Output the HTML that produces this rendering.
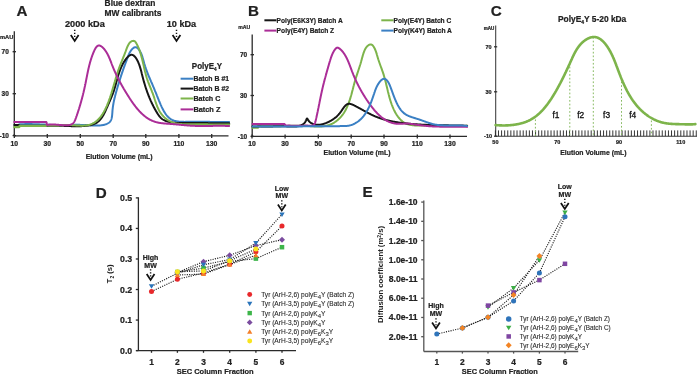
<!DOCTYPE html>
<html><head><meta charset="utf-8"><style>
html,body{margin:0;padding:0;background:#fff;width:697px;height:375px;overflow:hidden;position:relative;font-family:"Liberation Sans", sans-serif;}
</style></head><body>
<svg width="697" height="375" viewBox="0 0 697 375" style="position:absolute;left:0;top:0;filter:blur(0.35px)" font-family='"Liberation Sans", sans-serif'>
<rect width="697" height="375" fill="#fff"/>
<text x="16.60" y="15.80" font-size="15.2" font-weight="bold" text-anchor="start" fill="#222" stroke="#222" stroke-width="0.22" >A</text>
<text x="104.60" y="6.00" font-size="8.6" font-weight="bold" text-anchor="start" fill="#222" stroke="#222" stroke-width="0.22" textLength="50.80" lengthAdjust="spacingAndGlyphs" >Blue dextran</text>
<text x="104.60" y="15.70" font-size="8.6" font-weight="bold" text-anchor="start" fill="#222" stroke="#222" stroke-width="0.22" textLength="56.80" lengthAdjust="spacingAndGlyphs" >MW calibrants</text>
<text x="65.00" y="26.80" font-size="9.0" font-weight="bold" text-anchor="start" fill="#222" stroke="#222" stroke-width="0.22" textLength="39.80" lengthAdjust="spacingAndGlyphs" >2000 kDa</text>
<text x="166.80" y="26.80" font-size="9.0" font-weight="bold" text-anchor="start" fill="#222" stroke="#222" stroke-width="0.22" textLength="29.40" lengthAdjust="spacingAndGlyphs" >10 kDa</text>
<line x1="74.70" y1="29.70" x2="74.70" y2="37.70" stroke="#111" stroke-width="1.45" stroke-dasharray="1.35 1.65"/>
<path d="M70.80 34.90 L74.70 40.90 L78.60 34.90" fill="none" stroke="#111" stroke-width="1.75" stroke-linejoin="miter" stroke-miterlimit="6"/>
<line x1="176.50" y1="29.70" x2="176.50" y2="37.70" stroke="#111" stroke-width="1.45" stroke-dasharray="1.35 1.65"/>
<path d="M172.60 34.90 L176.50 40.90 L180.40 34.90" fill="none" stroke="#111" stroke-width="1.75" stroke-linejoin="miter" stroke-miterlimit="6"/>
<line x1="14.30" y1="31.20" x2="14.30" y2="135.60" stroke="#2a2a2a" stroke-width="1.3" />
<line x1="14.30" y1="135.80" x2="228.50" y2="135.80" stroke="#2a2a2a" stroke-width="1.3" />
<line x1="12.60" y1="51.70" x2="16.00" y2="51.70" stroke="#2a2a2a" stroke-width="1.3" />
<line x1="12.60" y1="93.70" x2="16.00" y2="93.70" stroke="#2a2a2a" stroke-width="1.3" />
<line x1="12.60" y1="135.60" x2="16.00" y2="135.60" stroke="#2a2a2a" stroke-width="1.3" />
<line x1="14.30" y1="134.00" x2="14.30" y2="138.00" stroke="#2a2a2a" stroke-width="1.3" />
<line x1="47.30" y1="134.00" x2="47.30" y2="138.00" stroke="#2a2a2a" stroke-width="1.3" />
<line x1="80.30" y1="134.00" x2="80.30" y2="138.00" stroke="#2a2a2a" stroke-width="1.3" />
<line x1="113.20" y1="134.00" x2="113.20" y2="138.00" stroke="#2a2a2a" stroke-width="1.3" />
<line x1="145.80" y1="134.00" x2="145.80" y2="138.00" stroke="#2a2a2a" stroke-width="1.3" />
<line x1="178.90" y1="134.00" x2="178.90" y2="138.00" stroke="#2a2a2a" stroke-width="1.3" />
<line x1="211.70" y1="134.00" x2="211.70" y2="138.00" stroke="#2a2a2a" stroke-width="1.3" />
<text x="13.30" y="38.60" font-size="6.0" font-weight="bold" text-anchor="end" fill="#222" stroke="#222" stroke-width="0.22" textLength="13.30" lengthAdjust="spacingAndGlyphs" >mAU</text>
<text x="8.80" y="54.10" font-size="6.5" font-weight="bold" text-anchor="end" fill="#222" stroke="#222" stroke-width="0.22" >70</text>
<text x="8.80" y="96.10" font-size="6.5" font-weight="bold" text-anchor="end" fill="#222" stroke="#222" stroke-width="0.22" >30</text>
<text x="9.00" y="138.00" font-size="6.5" font-weight="bold" text-anchor="end" fill="#222" stroke="#222" stroke-width="0.22" >-10</text>
<text x="14.30" y="145.60" font-size="6.8" font-weight="bold" text-anchor="middle" fill="#222" stroke="#222" stroke-width="0.22" >10</text>
<text x="47.30" y="145.60" font-size="6.8" font-weight="bold" text-anchor="middle" fill="#222" stroke="#222" stroke-width="0.22" >30</text>
<text x="80.30" y="145.60" font-size="6.8" font-weight="bold" text-anchor="middle" fill="#222" stroke="#222" stroke-width="0.22" >50</text>
<text x="113.20" y="145.60" font-size="6.8" font-weight="bold" text-anchor="middle" fill="#222" stroke="#222" stroke-width="0.22" >70</text>
<text x="145.80" y="145.60" font-size="6.8" font-weight="bold" text-anchor="middle" fill="#222" stroke="#222" stroke-width="0.22" >90</text>
<text x="178.90" y="145.60" font-size="6.8" font-weight="bold" text-anchor="middle" fill="#222" stroke="#222" stroke-width="0.22" >110</text>
<text x="211.70" y="145.60" font-size="6.8" font-weight="bold" text-anchor="middle" fill="#222" stroke="#222" stroke-width="0.22" >130</text>
<text x="119.20" y="159.00" font-size="7.3" font-weight="bold" text-anchor="middle" fill="#222" stroke="#222" stroke-width="0.22" textLength="67.00" lengthAdjust="spacingAndGlyphs" >Elution Volume (mL)</text>
<text x="191.80" y="69.20" font-size="8.8" font-weight="bold" text-anchor="start" fill="#222" stroke="#222" stroke-width="0.22" textLength="30.20" lengthAdjust="spacingAndGlyphs" >PolyE<tspan font-size="5" dy="2">4</tspan><tspan dy="-2">Y</tspan></text>
<line x1="180.60" y1="78.70" x2="193.40" y2="78.70" stroke="#3b80c4" stroke-width="2" />
<text x="193.40" y="81.20" font-size="7.2" font-weight="bold" text-anchor="start" fill="#222" stroke="#222" stroke-width="0.22" textLength="35.70" lengthAdjust="spacingAndGlyphs" >Batch B #1</text>
<line x1="180.60" y1="88.60" x2="193.40" y2="88.60" stroke="#161616" stroke-width="2" />
<text x="193.40" y="91.10" font-size="7.2" font-weight="bold" text-anchor="start" fill="#222" stroke="#222" stroke-width="0.22" textLength="35.70" lengthAdjust="spacingAndGlyphs" >Batch B #2</text>
<line x1="180.60" y1="98.50" x2="193.40" y2="98.50" stroke="#7db44b" stroke-width="2" />
<text x="193.40" y="101.00" font-size="7.2" font-weight="bold" text-anchor="start" fill="#222" stroke="#222" stroke-width="0.22" textLength="27.00" lengthAdjust="spacingAndGlyphs" >Batch C</text>
<line x1="180.60" y1="109.40" x2="193.40" y2="109.40" stroke="#ab2d97" stroke-width="2" />
<text x="193.40" y="111.90" font-size="7.2" font-weight="bold" text-anchor="start" fill="#222" stroke="#222" stroke-width="0.22" textLength="27.00" lengthAdjust="spacingAndGlyphs" >Batch Z</text>
<path d="M19.05 124.39 L19.57 124.36 L20.08 124.32 L20.60 124.29 L21.12 124.26 L21.64 124.23 L22.16 124.21 L22.68 124.19 L23.20 124.17 L23.73 124.15 L24.25 124.13 L24.77 124.12 L25.29 124.11 L25.82 124.10 L26.34 124.09 L26.86 124.09 L27.39 124.08 L27.91 124.08 L28.43 124.08 L28.96 124.08 L29.48 124.08 L30.01 124.09 L30.53 124.09 L31.06 124.10 L31.59 124.11 L32.11 124.12 L32.64 124.13 L33.17 124.14 L33.69 124.15 L34.22 124.17 L34.75 124.18 L35.27 124.20 L35.80 124.22 L36.33 124.24 L36.86 124.26 L37.38 124.28 L37.91 124.30 L38.44 124.32 L38.97 124.34 L39.50 124.36 L40.02 124.39 L40.55 124.41 L41.08 124.44 L41.61 124.46 L42.14 124.49 L42.66 124.51 L43.19 124.54 L43.72 124.56 L44.25 124.59 L44.78 124.61 L45.31 124.64 L45.83 124.66 L46.36 124.69 L46.89 124.71 L47.42 124.74 L47.94 124.76 L48.47 124.79 L49.00 124.81 L49.53 124.84 L50.05 124.86 L50.58 124.88 L51.11 124.90 L51.63 124.92 L52.16 124.94 L52.69 124.96 L53.21 124.98 L53.74 125.00 L54.26 125.02 L54.79 125.03 L55.31 125.05 L55.84 125.06 L56.36 125.08 L56.89 125.09 L57.41 125.10 L57.94 125.11 L58.46 125.11 L58.98 125.12 L59.50 125.13 L60.03 125.13 L60.55 125.13 L61.07 125.13 L61.59 125.13 L62.11 125.13 L62.63 125.12 L63.15 125.12 L63.67 125.11 L64.19 125.10 L64.71 125.09 L65.23 125.08 L65.75 125.07 L66.27 125.06 L66.79 125.05 L67.31 125.04 L67.83 125.02 L68.35 125.01 L68.87 125.00 L69.39 124.98 L69.91 124.97 L70.43 124.96 L70.95 124.94 L71.47 124.93 L71.99 124.92 L72.51 124.91 L73.03 124.90 L73.56 124.89 L74.08 124.88 L74.60 124.87 L75.13 124.86 L75.65 124.86 L76.18 124.85 L76.70 124.85 L77.23 124.85 L77.76 124.85 L78.28 124.85 L78.81 124.86 L79.34 124.86 L79.87 124.87 L80.41 124.88 L80.94 124.89 L81.47 124.91 L82.01 124.93 L82.54 124.95 L83.08 124.97 L83.62 124.99 L84.16 125.02 L84.70 125.05 L85.24 125.08 L85.78 125.12 L86.32 125.15 L86.86 125.19 L87.41 125.22 L87.95 125.26 L88.49 125.29 L89.03 125.33 L89.58 125.37 L90.12 125.40 L90.66 125.43 L91.20 125.46 L91.74 125.49 L92.28 125.52 L92.81 125.54 L93.35 125.56 L93.88 125.58 L94.42 125.60 L94.95 125.61 L95.48 125.61 L96.01 125.62 L96.53 125.61 L97.06 125.61 L97.58 125.59 L98.10 125.57 L98.61 125.55 L99.13 125.52 L99.64 125.48 L100.15 125.44 L100.65 125.38 L101.15 125.32 L101.65 125.26 L102.15 125.18 L102.64 125.10 L103.13 125.00 L103.61 124.90 L104.09 124.79 L104.57 124.67 L105.04 124.54 L105.50 124.39 L105.96 124.24 L106.40 124.07 L106.84 123.89 L107.27 123.69 L107.68 123.48 L108.08 123.25 L108.46 123.01 L108.83 122.75 L109.18 122.47 L109.52 122.17 L109.83 121.86 L110.13 121.52 L110.40 121.16 L110.65 120.78 L110.87 120.38 L111.08 119.96 L111.26 119.51 L111.42 119.05 L111.56 118.57 L111.69 118.08 L111.80 117.57 L111.89 117.04 L111.98 116.51 L112.05 115.96 L112.11 115.41 L112.17 114.85 L112.22 114.28 L112.27 113.71 L112.31 113.14 L112.35 112.56 L112.39 111.98 L112.43 111.41 L112.47 110.84 L112.52 110.27 L112.57 109.70 L112.63 109.14 L112.69 108.58 L112.76 108.03 L112.83 107.48 L112.90 106.93 L112.97 106.39 L113.05 105.84 L113.13 105.31 L113.22 104.77 L113.31 104.24 L113.40 103.71 L113.50 103.18 L113.60 102.66 L113.70 102.13 L113.80 101.61 L113.91 101.09 L114.02 100.58 L114.13 100.06 L114.24 99.55 L114.36 99.04 L114.48 98.53 L114.60 98.03 L114.72 97.52 L114.85 97.02 L114.97 96.51 L115.10 96.01 L115.23 95.51 L115.36 95.01 L115.49 94.51 L115.63 94.01 L115.76 93.52 L115.90 93.02 L116.04 92.52 L116.17 92.03 L116.31 91.53 L116.45 91.03 L116.59 90.54 L116.73 90.04 L116.88 89.55 L117.02 89.05 L117.16 88.56 L117.31 88.06 L117.45 87.57 L117.60 87.07 L117.74 86.57 L117.89 86.08 L118.04 85.58 L118.18 85.09 L118.33 84.59 L118.48 84.10 L118.63 83.60 L118.78 83.10 L118.93 82.61 L119.09 82.11 L119.24 81.62 L119.39 81.12 L119.55 80.62 L119.70 80.13 L119.86 79.63 L120.02 79.13 L120.18 78.64 L120.33 78.14 L120.49 77.64 L120.65 77.14 L120.82 76.65 L120.98 76.15 L121.14 75.65 L121.30 75.15 L121.47 74.65 L121.63 74.16 L121.80 73.66 L121.97 73.16 L122.14 72.66 L122.31 72.16 L122.48 71.66 L122.65 71.16 L122.82 70.66 L122.99 70.16 L123.16 69.66 L123.34 69.15 L123.52 68.65 L123.69 68.15 L123.87 67.65 L124.05 67.15 L124.23 66.64 L124.41 66.14 L124.59 65.63 L124.77 65.13 L124.96 64.63 L125.14 64.12 L125.33 63.62 L125.51 63.11 L125.70 62.60 L125.89 62.10 L126.08 61.59 L126.27 61.08 L126.46 60.57 L126.65 60.07 L126.85 59.56 L127.04 59.05 L127.24 58.54 L127.44 58.03 L127.63 57.52 L127.83 57.01 L128.03 56.50 L128.24 55.99 L128.44 55.48 L128.66 54.97 L128.87 54.47 L129.09 53.98 L129.32 53.49 L129.55 53.01 L129.79 52.54 L130.04 52.08 L130.29 51.63 L130.56 51.19 L130.84 50.76 L131.13 50.35 L131.43 49.95 L131.74 49.57 L132.06 49.20 L132.40 48.85 L132.76 48.52 L133.13 48.22 L133.51 47.94 L133.90 47.69 L134.29 47.49 L134.69 47.33 L135.09 47.23 L135.48 47.18 L135.87 47.21 L136.25 47.30 L136.63 47.46 L136.99 47.67 L137.34 47.92 L137.68 48.22 L138.02 48.54 L138.34 48.89 L138.64 49.26 L138.94 49.64 L139.22 50.02 L139.49 50.42 L139.76 50.83 L140.01 51.26 L140.25 51.68 L140.48 52.12 L140.70 52.57 L140.92 53.03 L141.13 53.49 L141.33 53.96 L141.52 54.44 L141.70 54.93 L141.88 55.42 L142.06 55.91 L142.23 56.41 L142.39 56.92 L142.55 57.43 L142.71 57.95 L142.86 58.46 L143.01 58.98 L143.16 59.51 L143.31 60.03 L143.46 60.56 L143.60 61.09 L143.75 61.62 L143.89 62.15 L144.04 62.68 L144.18 63.21 L144.33 63.73 L144.48 64.26 L144.64 64.79 L144.79 65.31 L144.95 65.83 L145.11 66.35 L145.28 66.86 L145.45 67.38 L145.62 67.89 L145.79 68.40 L145.97 68.90 L146.15 69.41 L146.33 69.91 L146.51 70.41 L146.70 70.91 L146.89 71.41 L147.08 71.91 L147.27 72.40 L147.46 72.90 L147.65 73.39 L147.85 73.88 L148.05 74.37 L148.25 74.85 L148.45 75.34 L148.65 75.82 L148.85 76.31 L149.05 76.79 L149.26 77.27 L149.46 77.75 L149.67 78.23 L149.87 78.71 L150.08 79.19 L150.29 79.67 L150.49 80.14 L150.70 80.62 L150.91 81.09 L151.11 81.57 L151.32 82.04 L151.53 82.52 L151.73 82.99 L151.94 83.46 L152.14 83.94 L152.34 84.41 L152.55 84.88 L152.75 85.36 L152.95 85.83 L153.15 86.30 L153.35 86.78 L153.54 87.25 L153.74 87.72 L153.94 88.20 L154.14 88.67 L154.33 89.14 L154.53 89.62 L154.72 90.09 L154.92 90.57 L155.11 91.05 L155.31 91.52 L155.50 92.00 L155.69 92.48 L155.89 92.96 L156.08 93.44 L156.28 93.92 L156.47 94.40 L156.67 94.88 L156.86 95.37 L157.06 95.85 L157.26 96.34 L157.46 96.82 L157.65 97.31 L157.85 97.80 L158.05 98.29 L158.25 98.78 L158.46 99.28 L158.66 99.77 L158.86 100.27 L159.07 100.76 L159.27 101.26 L159.48 101.76 L159.69 102.27 L159.90 102.77 L160.11 103.27 L160.33 103.78 L160.55 104.29 L160.76 104.80 L160.98 105.30 L161.21 105.81 L161.43 106.31 L161.66 106.82 L161.90 107.32 L162.13 107.82 L162.37 108.32 L162.61 108.81 L162.86 109.30 L163.11 109.78 L163.37 110.27 L163.63 110.74 L163.89 111.21 L164.16 111.68 L164.43 112.14 L164.71 112.59 L165.00 113.04 L165.29 113.48 L165.59 113.91 L165.89 114.33 L166.20 114.75 L166.51 115.15 L166.84 115.55 L167.16 115.93 L167.50 116.31 L167.84 116.67 L168.19 117.03 L168.55 117.37 L168.92 117.70 L169.29 118.02 L169.68 118.32 L170.07 118.62 L170.46 118.90 L170.87 119.16 L171.29 119.41 L171.72 119.64 L172.15 119.86 L172.59 120.07 L173.05 120.26 L173.51 120.44 L173.98 120.60 L174.45 120.75 L174.94 120.89 L175.43 121.02 L175.92 121.14 L176.42 121.24 L176.93 121.34 L177.44 121.43 L177.96 121.50 L178.48 121.57 L179.01 121.63 L179.54 121.68 L180.08 121.72 L180.61 121.76 L181.15 121.79 L181.70 121.82 L182.24 121.84 L182.79 121.85 L183.33 121.87 L183.88 121.87 L184.43 121.88 L184.98 121.88 L185.53 121.87 L186.08 121.87 L186.62 121.87 L187.17 121.86 L187.71 121.85 L188.26 121.85 L188.80 121.84 L189.34 121.84 L189.87 121.83 L190.41 121.83 L190.94 121.82 L191.47 121.82 L192.00 121.82 L192.52 121.82 L193.05 121.81 L193.57 121.81 L194.10 121.81 L194.62 121.81 L195.14 121.81 L195.66 121.81 L196.18 121.81 L196.70 121.81 L197.21 121.81 L197.73 121.81 L198.25 121.81 L198.76 121.81 L199.28 121.81 L199.79 121.82 L200.30 121.82 L200.82 121.82 L201.33 121.82 L201.85 121.83 L202.36 121.83 L202.88 121.83 L203.39 121.83 L203.91 121.84 L204.43 121.84 L204.94 121.84 L205.46 121.85 L205.98 121.85 L206.50 121.85 L207.02 121.86 L207.54 121.86 L208.06 121.86 L208.59 121.87 L209.11 121.87 L209.64 121.87 L210.17 121.88 L210.70 121.88 L211.23 121.88 L211.76 121.89 L212.29 121.89 L212.83 121.89 L213.36 121.90 L213.89 121.90 L214.43 121.90 L214.96 121.90 L215.50 121.91 L216.03 121.91 L216.57 121.91 L217.10 121.91 L217.64 121.91 L218.17 121.91 L218.71 121.92 L219.24 121.92 L219.77 121.92 L220.31 121.92 L220.84 121.92 L221.37 121.92 L221.90 121.92 L222.43 121.92 L222.95 121.92 L223.48 121.92 L224.00 121.92 L224.53 121.91 L225.05 121.91 L225.57 121.91 L226.08 121.91 L226.60 121.90 L227.11 121.90 L227.62 121.90 L228.13 121.89 L228.64 121.89 L229.14 121.89" fill="none" stroke="#3b80c4" stroke-width="2" stroke-linejoin="round" stroke-linecap="round"/>
<path d="M14.30 124.90 L14.80 124.90 L15.30 124.90 L15.80 124.90 L16.30 124.90 L16.80 124.90 L17.30 124.90 L17.80 124.90 L18.30 124.90 L18.80 124.90" fill="none" stroke="#161616" stroke-width="2" stroke-linejoin="round" stroke-linecap="round" />
<path d="M19.21 125.72 L19.71 125.73 L20.21 125.75 L20.70 125.76 L21.20 125.77 L21.70 125.78 L22.20 125.80 L22.69 125.80 L23.19 125.81 L23.69 125.82 L24.19 125.83 L24.68 125.83 L25.18 125.84 L25.68 125.85 L26.18 125.85 L26.68 125.85 L27.18 125.86 L27.68 125.86 L28.17 125.86 L28.67 125.86 L29.17 125.86 L29.67 125.86 L30.17 125.86 L30.67 125.86 L31.17 125.86 L31.67 125.86 L32.17 125.86 L32.67 125.86 L33.17 125.85 L33.67 125.85 L34.16 125.85 L34.66 125.84 L35.16 125.84 L35.66 125.83 L36.16 125.83 L36.66 125.83 L37.16 125.82 L37.66 125.82 L38.16 125.81 L38.66 125.81 L39.16 125.80 L39.66 125.79 L40.16 125.79 L40.66 125.78 L41.16 125.78 L41.66 125.77 L42.16 125.77 L42.66 125.76 L43.16 125.76 L43.66 125.75 L44.16 125.74 L44.66 125.74 L45.16 125.73 L45.66 125.73 L46.16 125.73 L46.66 125.72 L47.16 125.72 L47.66 125.71 L48.16 125.71 L48.66 125.71 L49.16 125.70 L49.66 125.70 L50.16 125.70 L50.66 125.70 L51.16 125.70 L51.66 125.69 L52.16 125.69 L52.66 125.69 L53.15 125.69 L53.65 125.70 L54.15 125.70 L54.65 125.70 L55.15 125.70 L55.65 125.71 L56.15 125.71 L56.65 125.71 L57.14 125.72 L57.64 125.73 L58.14 125.73 L58.64 125.74 L59.14 125.75 L59.63 125.76 L60.13 125.77 L60.63 125.78 L61.13 125.79 L61.63 125.80 L62.12 125.81 L62.62 125.83 L63.12 125.84 L63.61 125.86 L64.11 125.88 L64.61 125.89 L65.10 125.91 L65.60 125.93 L66.10 125.95 L66.59 125.97 L67.09 125.99 L67.59 126.01 L68.08 126.02 L68.58 126.04 L69.08 126.06 L69.57 126.08 L70.07 126.10 L70.57 126.11 L71.06 126.13 L71.56 126.14 L72.06 126.16 L72.56 126.17 L73.06 126.19 L73.55 126.20 L74.05 126.21 L74.55 126.21 L75.05 126.22 L75.55 126.23 L76.05 126.23 L76.55 126.23 L77.05 126.23 L77.55 126.23 L78.05 126.23 L78.56 126.22 L79.06 126.21 L79.56 126.20 L80.06 126.19 L80.57 126.17 L81.07 126.15 L81.58 126.13 L82.08 126.11 L82.59 126.08 L83.09 126.05 L83.60 126.02 L84.11 125.98 L84.62 125.94 L85.12 125.89 L85.63 125.84 L86.14 125.79 L86.64 125.73 L87.14 125.67 L87.65 125.60 L88.15 125.52 L88.64 125.44 L89.14 125.35 L89.63 125.26 L90.12 125.15 L90.60 125.04 L91.08 124.93 L91.56 124.80 L92.03 124.67 L92.50 124.52 L92.96 124.37 L93.41 124.21 L93.86 124.04 L94.31 123.86 L94.74 123.67 L95.17 123.47 L95.60 123.26 L96.01 123.04 L96.42 122.80 L96.82 122.56 L97.21 122.30 L97.60 122.03 L97.97 121.75 L98.34 121.45 L98.69 121.15 L99.04 120.83 L99.38 120.50 L99.72 120.16 L100.04 119.81 L100.36 119.45 L100.67 119.08 L100.97 118.70 L101.27 118.31 L101.56 117.92 L101.84 117.52 L102.12 117.10 L102.40 116.69 L102.66 116.26 L102.92 115.83 L103.18 115.40 L103.43 114.95 L103.68 114.51 L103.92 114.06 L104.16 113.60 L104.39 113.14 L104.62 112.68 L104.85 112.21 L105.08 111.74 L105.30 111.27 L105.51 110.80 L105.73 110.33 L105.94 109.85 L106.15 109.37 L106.36 108.90 L106.57 108.42 L106.78 107.95 L106.98 107.47 L107.19 107.00 L107.39 106.53 L107.59 106.06 L107.79 105.59 L107.99 105.13 L108.20 104.67 L108.40 104.21 L108.60 103.75 L108.80 103.30 L109.00 102.84 L109.19 102.39 L109.39 101.94 L109.59 101.49 L109.78 101.04 L109.98 100.59 L110.17 100.15 L110.37 99.70 L110.56 99.25 L110.75 98.81 L110.94 98.36 L111.12 97.92 L111.31 97.47 L111.49 97.03 L111.68 96.58 L111.86 96.13 L112.04 95.69 L112.21 95.24 L112.39 94.79 L112.56 94.34 L112.73 93.89 L112.90 93.43 L113.07 92.98 L113.23 92.52 L113.40 92.06 L113.56 91.60 L113.72 91.13 L113.87 90.67 L114.02 90.20 L114.17 89.73 L114.32 89.26 L114.47 88.78 L114.62 88.30 L114.76 87.83 L114.90 87.35 L115.04 86.86 L115.18 86.38 L115.32 85.90 L115.46 85.41 L115.59 84.92 L115.73 84.43 L115.86 83.94 L116.00 83.45 L116.13 82.96 L116.27 82.47 L116.40 81.98 L116.54 81.48 L116.67 80.99 L116.81 80.50 L116.94 80.00 L117.08 79.51 L117.22 79.01 L117.36 78.52 L117.50 78.03 L117.64 77.53 L117.78 77.04 L117.92 76.55 L118.07 76.05 L118.22 75.56 L118.37 75.07 L118.52 74.58 L118.67 74.09 L118.83 73.60 L118.99 73.11 L119.15 72.63 L119.31 72.14 L119.48 71.66 L119.65 71.18 L119.82 70.70 L120.00 70.22 L120.17 69.75 L120.36 69.27 L120.54 68.80 L120.74 68.33 L120.93 67.86 L121.13 67.40 L121.33 66.93 L121.54 66.47 L121.75 66.01 L121.97 65.56 L122.19 65.11 L122.42 64.66 L122.65 64.21 L122.89 63.77 L123.13 63.33 L123.38 62.89 L123.63 62.46 L123.89 62.03 L124.15 61.60 L124.43 61.18 L124.70 60.76 L124.99 60.34 L125.28 59.93 L125.57 59.53 L125.88 59.12 L126.19 58.73 L126.50 58.34 L126.83 57.96 L127.15 57.59 L127.48 57.23 L127.82 56.89 L128.15 56.57 L128.49 56.27 L128.84 55.99 L129.18 55.73 L129.52 55.50 L129.87 55.30 L130.21 55.13 L130.55 54.99 L130.90 54.89 L131.23 54.82 L131.57 54.79 L131.90 54.80 L132.23 54.86 L132.56 54.95 L132.88 55.07 L133.20 55.23 L133.51 55.42 L133.82 55.65 L134.12 55.90 L134.42 56.18 L134.72 56.48 L135.01 56.80 L135.29 57.14 L135.56 57.50 L135.83 57.88 L136.10 58.27 L136.36 58.67 L136.61 59.08 L136.85 59.50 L137.09 59.93 L137.32 60.36 L137.54 60.79 L137.76 61.24 L137.97 61.68 L138.18 62.14 L138.38 62.59 L138.57 63.05 L138.76 63.52 L138.94 63.99 L139.12 64.46 L139.29 64.93 L139.46 65.41 L139.63 65.90 L139.79 66.38 L139.95 66.87 L140.10 67.36 L140.25 67.86 L140.40 68.35 L140.54 68.85 L140.69 69.35 L140.83 69.85 L140.96 70.35 L141.10 70.86 L141.23 71.36 L141.37 71.87 L141.50 72.37 L141.63 72.88 L141.75 73.39 L141.88 73.89 L142.01 74.40 L142.14 74.91 L142.26 75.41 L142.39 75.92 L142.52 76.42 L142.65 76.92 L142.78 77.43 L142.91 77.93 L143.04 78.42 L143.17 78.92 L143.31 79.42 L143.44 79.91 L143.58 80.41 L143.71 80.90 L143.85 81.39 L143.99 81.88 L144.13 82.37 L144.27 82.85 L144.41 83.34 L144.55 83.82 L144.70 84.31 L144.84 84.79 L144.99 85.27 L145.14 85.75 L145.29 86.23 L145.44 86.71 L145.59 87.18 L145.74 87.66 L145.90 88.13 L146.05 88.60 L146.21 89.08 L146.37 89.55 L146.53 90.02 L146.69 90.49 L146.85 90.95 L147.02 91.42 L147.18 91.89 L147.35 92.35 L147.52 92.81 L147.69 93.28 L147.86 93.74 L148.04 94.20 L148.21 94.66 L148.39 95.12 L148.57 95.58 L148.75 96.03 L148.93 96.49 L149.12 96.94 L149.30 97.40 L149.49 97.85 L149.68 98.31 L149.87 98.76 L150.06 99.21 L150.26 99.66 L150.46 100.11 L150.65 100.56 L150.86 101.01 L151.06 101.45 L151.26 101.90 L151.47 102.35 L151.68 102.79 L151.89 103.24 L152.10 103.68 L152.32 104.12 L152.53 104.57 L152.75 105.01 L152.98 105.45 L153.20 105.89 L153.42 106.33 L153.65 106.77 L153.88 107.21 L154.12 107.65 L154.35 108.09 L154.59 108.52 L154.83 108.96 L155.07 109.40 L155.31 109.83 L155.56 110.27 L155.81 110.70 L156.06 111.14 L156.31 111.57 L156.57 112.01 L156.83 112.44 L157.09 112.87 L157.35 113.30 L157.62 113.73 L157.90 114.15 L158.18 114.57 L158.46 114.98 L158.75 115.39 L159.05 115.79 L159.35 116.18 L159.66 116.56 L159.98 116.94 L160.31 117.30 L160.64 117.66 L160.99 118.00 L161.34 118.32 L161.71 118.64 L162.08 118.94 L162.47 119.23 L162.87 119.50 L163.28 119.75 L163.70 119.99 L164.12 120.22 L164.56 120.43 L165.01 120.63 L165.46 120.82 L165.92 121.00 L166.38 121.17 L166.85 121.33 L167.33 121.47 L167.81 121.61 L168.29 121.74 L168.78 121.86 L169.27 121.97 L169.76 122.07 L170.25 122.17 L170.74 122.27 L171.24 122.35 L171.73 122.43 L172.23 122.51 L172.72 122.57 L173.22 122.64 L173.72 122.70 L174.22 122.75 L174.72 122.80 L175.21 122.84 L175.71 122.88 L176.21 122.92 L176.72 122.95 L177.22 122.97 L177.72 123.00 L178.22 123.02 L178.72 123.03 L179.23 123.05 L179.73 123.06 L180.23 123.07 L180.74 123.07 L181.24 123.08 L181.75 123.08 L182.25 123.08 L182.75 123.07 L183.26 123.07 L183.76 123.06 L184.27 123.06 L184.77 123.05 L185.28 123.04 L185.78 123.03 L186.29 123.02 L186.79 123.01 L187.29 123.00 L187.80 122.99 L188.30 122.98 L188.80 122.97 L189.31 122.96 L189.81 122.96 L190.31 122.95 L190.81 122.94 L191.31 122.94 L191.82 122.94 L192.32 122.93 L192.82 122.93 L193.32 122.93 L193.82 122.93 L194.32 122.93 L194.82 122.93 L195.31 122.93 L195.81 122.93 L196.31 122.94 L196.81 122.94 L197.31 122.94 L197.81 122.95 L198.30 122.95 L198.80 122.96 L199.30 122.97 L199.80 122.97 L200.29 122.98 L200.79 122.99 L201.29 122.99 L201.78 123.00 L202.28 123.01 L202.78 123.02 L203.27 123.03 L203.77 123.04 L204.27 123.05 L204.76 123.06 L205.26 123.07 L205.76 123.08 L206.25 123.09 L206.75 123.10 L207.24 123.11 L207.74 123.12 L208.24 123.13 L208.73 123.14 L209.23 123.15 L209.73 123.16 L210.22 123.17 L210.72 123.18 L211.22 123.18 L211.71 123.19 L212.21 123.20 L212.71 123.21 L213.20 123.22 L213.70 123.23 L214.20 123.24 L214.70 123.24 L215.19 123.25 L215.69 123.26 L216.19 123.27 L216.69 123.27 L217.19 123.28 L217.69 123.28 L218.18 123.29 L218.68 123.29 L219.18 123.30 L219.68 123.30 L220.18 123.30 L220.68 123.30 L221.18 123.30 L221.69 123.30 L222.19 123.30 L222.69 123.30 L223.19 123.30 L223.69 123.30 L224.20 123.29 L224.70 123.29 L225.20 123.28 L225.71 123.28 L226.21 123.27 L226.71 123.26 L227.22 123.25 L227.73 123.24 L228.23 123.23 L228.74 123.22 L229.24 123.21" fill="none" stroke="#161616" stroke-width="2" stroke-linejoin="round" stroke-linecap="round"/>
<path d="M14.30 127.10 L14.80 127.10 L15.30 127.10 L15.80 127.10 L16.30 127.10 L16.80 127.10 L17.30 127.10 L17.80 127.10 L18.30 127.10 L18.80 127.10 L19.30 127.10" fill="none" stroke="#7db44b" stroke-width="2.2" stroke-linejoin="round" stroke-linecap="round" />
<line x1="19.50" y1="127.10" x2="19.50" y2="125.80" stroke="#7db44b" stroke-width="2" />
<path d="M19.60 125.80 L20.10 125.80 L20.60 125.80 L21.10 125.80 L21.60 125.80 L22.10 125.80 L22.60 125.80 L23.10 125.80 L23.60 125.80 L24.10 125.80 L24.60 125.80 L25.10 125.80 L25.60 125.80 L26.10 125.80 L26.60 125.80 L27.10 125.80 L27.60 125.80 L28.10 125.80 L28.60 125.80 L29.10 125.80 L29.60 125.80 L30.10 125.80 L30.60 125.80 L31.10 125.80 L31.60 125.80 L32.10 125.80 L32.60 125.80 L33.10 125.80 L33.60 125.80 L34.10 125.80 L34.60 125.80 L35.10 125.80 L35.60 125.80 L36.10 125.80 L36.60 125.80 L37.10 125.80 L37.60 125.80 L38.10 125.80 L38.60 125.80 L39.10 125.80 L39.60 125.80 L40.10 125.80 L40.60 125.80 L41.10 125.80 L41.60 125.80 L42.10 125.80 L42.60 125.80 L43.10 125.80 L43.60 125.80 L44.10 125.80 L44.60 125.80 L45.10 125.80 L45.60 125.80 L46.00 125.80" fill="none" stroke="#7db44b" stroke-width="2.2" stroke-linejoin="round" stroke-linecap="round" />
<path d="M46.29 125.22 L46.84 125.27 L47.39 125.33 L47.94 125.37 L48.48 125.41 L49.01 125.45 L49.54 125.48 L50.06 125.51 L50.57 125.53 L51.09 125.54 L51.59 125.56 L52.10 125.56 L52.60 125.57 L53.09 125.57 L53.58 125.57 L54.07 125.56 L54.55 125.55 L55.04 125.54 L55.51 125.53 L55.99 125.51 L56.46 125.50 L56.94 125.48 L57.41 125.46 L57.87 125.43 L58.34 125.41 L58.81 125.39 L59.27 125.36 L59.73 125.33 L60.20 125.31 L60.66 125.28 L61.12 125.25 L61.58 125.23 L62.04 125.20 L62.51 125.18 L62.97 125.15 L63.44 125.13 L63.90 125.11 L64.37 125.09 L64.84 125.07 L65.31 125.05 L65.78 125.04 L66.25 125.03 L66.73 125.02 L67.21 125.02 L67.69 125.01 L68.18 125.01 L68.67 125.02 L69.16 125.02 L69.66 125.04 L70.16 125.05 L70.66 125.07 L71.17 125.10 L71.68 125.12 L72.19 125.15 L72.71 125.18 L73.23 125.21 L73.75 125.25 L74.27 125.28 L74.79 125.32 L75.32 125.35 L75.84 125.39 L76.37 125.42 L76.90 125.46 L77.42 125.49 L77.95 125.52 L78.48 125.55 L79.00 125.57 L79.53 125.59 L80.05 125.61 L80.58 125.63 L81.10 125.64 L81.62 125.65 L82.13 125.65 L82.65 125.64 L83.16 125.63 L83.66 125.62 L84.17 125.59 L84.67 125.56 L85.17 125.53 L85.66 125.48 L86.15 125.43 L86.63 125.37 L87.11 125.29 L87.58 125.21 L88.05 125.12 L88.51 125.02 L88.97 124.91 L89.42 124.79 L89.86 124.66 L90.30 124.52 L90.73 124.36 L91.15 124.20 L91.58 124.03 L91.99 123.85 L92.40 123.66 L92.80 123.46 L93.20 123.25 L93.59 123.04 L93.98 122.81 L94.36 122.58 L94.74 122.33 L95.11 122.08 L95.48 121.82 L95.84 121.55 L96.19 121.28 L96.54 121.00 L96.89 120.71 L97.23 120.41 L97.57 120.10 L97.90 119.79 L98.23 119.47 L98.55 119.15 L98.87 118.82 L99.18 118.48 L99.49 118.13 L99.79 117.78 L100.09 117.42 L100.39 117.06 L100.68 116.69 L100.97 116.32 L101.25 115.94 L101.53 115.55 L101.80 115.16 L102.07 114.77 L102.34 114.37 L102.60 113.96 L102.86 113.55 L103.12 113.14 L103.37 112.72 L103.62 112.30 L103.86 111.87 L104.10 111.44 L104.34 111.01 L104.58 110.57 L104.81 110.13 L105.04 109.69 L105.26 109.24 L105.48 108.79 L105.70 108.34 L105.91 107.89 L106.13 107.43 L106.34 106.97 L106.54 106.51 L106.75 106.05 L106.95 105.58 L107.14 105.12 L107.34 104.65 L107.53 104.18 L107.72 103.71 L107.91 103.24 L108.10 102.76 L108.28 102.29 L108.46 101.81 L108.64 101.34 L108.81 100.86 L108.99 100.39 L109.16 99.91 L109.33 99.44 L109.50 98.96 L109.66 98.49 L109.83 98.02 L109.99 97.54 L110.15 97.07 L110.31 96.59 L110.46 96.12 L110.62 95.65 L110.77 95.17 L110.93 94.70 L111.08 94.23 L111.23 93.76 L111.37 93.28 L111.52 92.81 L111.67 92.34 L111.81 91.87 L111.96 91.40 L112.10 90.93 L112.24 90.46 L112.38 89.99 L112.52 89.52 L112.66 89.05 L112.80 88.58 L112.94 88.11 L113.07 87.64 L113.21 87.17 L113.34 86.71 L113.48 86.24 L113.62 85.77 L113.75 85.30 L113.88 84.84 L114.02 84.37 L114.15 83.91 L114.29 83.44 L114.42 82.98 L114.55 82.51 L114.69 82.05 L114.82 81.58 L114.95 81.12 L115.09 80.65 L115.22 80.19 L115.36 79.73 L115.49 79.27 L115.63 78.80 L115.76 78.34 L115.90 77.88 L116.04 77.42 L116.18 76.96 L116.31 76.50 L116.45 76.04 L116.59 75.58 L116.73 75.12 L116.88 74.67 L117.02 74.21 L117.16 73.75 L117.31 73.29 L117.45 72.84 L117.60 72.38 L117.75 71.92 L117.90 71.47 L118.05 71.01 L118.21 70.56 L118.36 70.11 L118.52 69.65 L118.67 69.20 L118.83 68.75 L118.99 68.29 L119.16 67.84 L119.32 67.39 L119.49 66.94 L119.66 66.49 L119.83 66.04 L120.00 65.59 L120.17 65.14 L120.35 64.69 L120.52 64.24 L120.70 63.79 L120.88 63.34 L121.06 62.89 L121.24 62.44 L121.42 61.99 L121.61 61.54 L121.79 61.08 L121.98 60.63 L122.16 60.17 L122.35 59.72 L122.54 59.26 L122.72 58.80 L122.91 58.34 L123.10 57.88 L123.29 57.42 L123.48 56.95 L123.67 56.48 L123.86 56.01 L124.04 55.54 L124.23 55.07 L124.42 54.59 L124.61 54.11 L124.80 53.63 L124.98 53.15 L125.17 52.66 L125.36 52.18 L125.54 51.68 L125.73 51.19 L125.91 50.69 L126.09 50.19 L126.28 49.69 L126.46 49.19 L126.65 48.69 L126.83 48.19 L127.03 47.70 L127.22 47.21 L127.42 46.73 L127.63 46.26 L127.84 45.80 L128.06 45.35 L128.28 44.91 L128.52 44.49 L128.76 44.08 L129.02 43.69 L129.28 43.32 L129.56 42.96 L129.85 42.63 L130.15 42.32 L130.47 42.04 L130.80 41.78 L131.15 41.54 L131.51 41.34 L131.88 41.17 L132.26 41.03 L132.64 40.93 L133.03 40.88 L133.41 40.86 L133.78 40.90 L134.14 40.99 L134.48 41.13 L134.81 41.33 L135.11 41.59 L135.40 41.90 L135.66 42.25 L135.91 42.64 L136.16 43.04 L136.39 43.45 L136.62 43.87 L136.85 44.28 L137.07 44.70 L137.28 45.12 L137.49 45.55 L137.70 45.98 L137.90 46.41 L138.10 46.84 L138.29 47.28 L138.48 47.72 L138.67 48.16 L138.85 48.60 L139.03 49.05 L139.20 49.49 L139.37 49.94 L139.54 50.40 L139.70 50.85 L139.86 51.31 L140.02 51.76 L140.17 52.22 L140.32 52.69 L140.47 53.15 L140.61 53.61 L140.76 54.08 L140.90 54.55 L141.03 55.02 L141.17 55.49 L141.30 55.96 L141.43 56.44 L141.56 56.91 L141.69 57.39 L141.81 57.86 L141.93 58.34 L142.06 58.82 L142.18 59.30 L142.29 59.78 L142.41 60.27 L142.53 60.75 L142.64 61.23 L142.76 61.72 L142.87 62.20 L142.98 62.68 L143.09 63.17 L143.21 63.65 L143.32 64.14 L143.43 64.63 L143.54 65.11 L143.65 65.60 L143.76 66.09 L143.87 66.57 L143.98 67.06 L144.09 67.54 L144.20 68.03 L144.31 68.51 L144.43 69.00 L144.54 69.48 L144.65 69.97 L144.77 70.45 L144.89 70.93 L145.00 71.42 L145.12 71.90 L145.24 72.38 L145.37 72.86 L145.49 73.34 L145.61 73.81 L145.74 74.29 L145.87 74.76 L146.00 75.24 L146.13 75.71 L146.27 76.18 L146.41 76.65 L146.55 77.12 L146.69 77.59 L146.84 78.05 L146.98 78.52 L147.14 78.98 L147.29 79.44 L147.45 79.90 L147.61 80.36 L147.77 80.81 L147.93 81.27 L148.10 81.72 L148.27 82.17 L148.44 82.63 L148.61 83.08 L148.78 83.53 L148.96 83.98 L149.13 84.42 L149.31 84.87 L149.49 85.32 L149.67 85.77 L149.85 86.21 L150.03 86.66 L150.21 87.11 L150.39 87.56 L150.57 88.00 L150.75 88.45 L150.94 88.90 L151.12 89.35 L151.30 89.80 L151.48 90.25 L151.66 90.70 L151.84 91.15 L152.02 91.60 L152.19 92.06 L152.37 92.51 L152.54 92.97 L152.72 93.43 L152.89 93.89 L153.06 94.35 L153.22 94.81 L153.39 95.27 L153.55 95.74 L153.71 96.21 L153.87 96.68 L154.03 97.15 L154.19 97.62 L154.35 98.09 L154.50 98.57 L154.66 99.04 L154.81 99.52 L154.97 99.99 L155.12 100.47 L155.28 100.94 L155.43 101.42 L155.59 101.89 L155.75 102.37 L155.91 102.84 L156.07 103.31 L156.24 103.78 L156.41 104.25 L156.58 104.72 L156.75 105.18 L156.93 105.65 L157.11 106.11 L157.29 106.57 L157.48 107.03 L157.67 107.48 L157.87 107.93 L158.07 108.38 L158.27 108.82 L158.49 109.26 L158.70 109.70 L158.93 110.13 L159.16 110.56 L159.39 110.99 L159.63 111.41 L159.88 111.83 L160.14 112.24 L160.40 112.64 L160.67 113.04 L160.95 113.44 L161.24 113.83 L161.53 114.21 L161.83 114.59 L162.14 114.97 L162.45 115.33 L162.77 115.69 L163.10 116.05 L163.43 116.40 L163.77 116.74 L164.11 117.08 L164.46 117.41 L164.82 117.73 L165.18 118.05 L165.55 118.36 L165.92 118.66 L166.30 118.95 L166.69 119.24 L167.08 119.52 L167.47 119.79 L167.87 120.06 L168.27 120.31 L168.68 120.56 L169.10 120.80 L169.52 121.04 L169.94 121.26 L170.36 121.48 L170.80 121.69 L171.23 121.88 L171.67 122.07 L172.11 122.26 L172.56 122.43 L173.01 122.59 L173.46 122.74 L173.92 122.89 L174.38 123.02 L174.84 123.15 L175.31 123.27 L175.78 123.37 L176.25 123.47 L176.72 123.57 L177.20 123.65 L177.68 123.73 L178.16 123.80 L178.64 123.86 L179.13 123.92 L179.62 123.97 L180.11 124.01 L180.60 124.05 L181.09 124.09 L181.58 124.12 L182.08 124.14 L182.57 124.16 L183.07 124.18 L183.57 124.19 L184.07 124.20 L184.57 124.21 L185.07 124.22 L185.57 124.22 L186.07 124.22 L186.57 124.22 L187.07 124.21 L187.57 124.21 L188.07 124.21 L188.57 124.20 L189.07 124.20 L189.57 124.19 L190.07 124.19 L190.57 124.18 L191.07 124.18 L191.56 124.18 L192.06 124.18 L192.55 124.18 L193.05 124.18 L193.54 124.18 L194.04 124.18 L194.53 124.18 L195.02 124.18 L195.51 124.19 L196.00 124.19 L196.49 124.19 L196.98 124.20 L197.47 124.20 L197.96 124.21 L198.45 124.21 L198.94 124.22 L199.43 124.23 L199.91 124.23 L200.40 124.24 L200.89 124.25 L201.37 124.26 L201.86 124.27 L202.35 124.27 L202.83 124.28 L203.32 124.29 L203.80 124.30 L204.29 124.31 L204.77 124.32 L205.26 124.33 L205.74 124.34 L206.23 124.35 L206.71 124.36 L207.20 124.37 L207.68 124.37 L208.16 124.38 L208.65 124.39 L209.13 124.40 L209.62 124.41 L210.10 124.42 L210.59 124.43 L211.07 124.44 L211.56 124.45 L212.04 124.45 L212.53 124.46 L213.01 124.47 L213.50 124.48 L213.98 124.48 L214.47 124.49 L214.96 124.50 L215.44 124.50 L215.93 124.51 L216.42 124.51 L216.91 124.52 L217.39 124.52 L217.88 124.52 L218.37 124.53 L218.86 124.53 L219.35 124.53 L219.84 124.53 L220.33 124.53 L220.82 124.53 L221.31 124.53 L221.81 124.53 L222.30 124.52 L222.79 124.52 L223.29 124.52 L223.78 124.51 L224.28 124.51 L224.77 124.50 L225.27 124.49 L225.77 124.48 L226.27 124.48 L226.77 124.47 L227.27 124.45 L227.77 124.44 L228.27 124.43 L228.77 124.41 L229.28 124.40" fill="none" stroke="#7db44b" stroke-width="2" stroke-linejoin="round" stroke-linecap="round"/>
<path d="M14.30 122.10 L14.80 122.10 L15.30 122.10 L15.80 122.10 L16.30 122.10 L16.80 122.10 L17.30 122.10 L17.80 122.10 L18.30 122.10 L18.80 122.10 L19.30 122.10 L19.80 122.10 L20.30 122.10 L20.80 122.10 L21.30 122.10 L21.80 122.10 L22.30 122.10 L22.80 122.10 L23.30 122.10 L23.80 122.10 L24.30 122.10 L24.80 122.10 L25.30 122.10 L25.80 122.10 L26.30 122.10 L26.80 122.10 L27.30 122.10 L27.80 122.10 L28.30 122.10 L28.80 122.10 L29.30 122.10 L29.80 122.10 L30.30 122.10 L30.80 122.10 L31.30 122.10 L31.80 122.10 L32.30 122.10 L32.80 122.10 L33.30 122.10 L33.80 122.10 L34.30 122.10 L34.80 122.10 L35.30 122.10 L35.80 122.10 L36.30 122.10 L36.80 122.10 L37.30 122.10 L37.80 122.10 L38.30 122.10 L38.80 122.10 L39.30 122.10 L39.80 122.10 L40.30 122.10 L40.80 122.10 L41.30 122.10 L41.80 122.10 L42.30 122.10 L42.80 122.10 L43.30 122.10 L43.80 122.10 L44.30 122.10 L44.80 122.10 L45.30 122.10 L45.80 122.10 L46.30 122.10" fill="none" stroke="#ab2d97" stroke-width="2" stroke-linejoin="round" stroke-linecap="round" />
<line x1="46.60" y1="122.10" x2="46.60" y2="124.70" stroke="#ab2d97" stroke-width="2" />
<path d="M46.90 124.86 L47.35 124.81 L47.80 124.76 L48.25 124.72 L48.70 124.69 L49.15 124.65 L49.61 124.62 L50.06 124.60 L50.52 124.58 L50.98 124.56 L51.44 124.55 L51.90 124.54 L52.37 124.53 L52.83 124.53 L53.30 124.54 L53.77 124.54 L54.25 124.55 L54.72 124.57 L55.20 124.59 L55.68 124.61 L56.17 124.64 L56.66 124.67 L57.15 124.71 L57.64 124.74 L58.14 124.79 L58.64 124.83 L59.14 124.88 L59.64 124.93 L60.15 124.98 L60.65 125.02 L61.16 125.07 L61.66 125.12 L62.17 125.16 L62.67 125.20 L63.17 125.23 L63.67 125.26 L64.17 125.29 L64.67 125.31 L65.16 125.32 L65.65 125.32 L66.14 125.32 L66.62 125.30 L67.09 125.28 L67.56 125.24 L68.02 125.20 L68.48 125.14 L68.93 125.07 L69.36 124.98 L69.79 124.88 L70.21 124.77 L70.61 124.64 L71.00 124.49 L71.39 124.32 L71.75 124.14 L72.11 123.94 L72.44 123.72 L72.77 123.48 L73.07 123.21 L73.36 122.93 L73.63 122.62 L73.89 122.30 L74.13 121.95 L74.35 121.58 L74.56 121.20 L74.76 120.81 L74.95 120.40 L75.14 119.98 L75.31 119.56 L75.48 119.12 L75.65 118.68 L75.81 118.24 L75.97 117.79 L76.13 117.35 L76.28 116.90 L76.44 116.45 L76.60 116.01 L76.75 115.56 L76.91 115.11 L77.06 114.66 L77.21 114.21 L77.37 113.76 L77.52 113.31 L77.67 112.86 L77.82 112.41 L77.97 111.96 L78.11 111.51 L78.26 111.05 L78.41 110.60 L78.55 110.15 L78.70 109.69 L78.84 109.24 L78.98 108.78 L79.13 108.33 L79.27 107.87 L79.41 107.42 L79.55 106.96 L79.69 106.50 L79.82 106.05 L79.96 105.59 L80.10 105.13 L80.23 104.67 L80.37 104.21 L80.50 103.76 L80.63 103.30 L80.77 102.84 L80.90 102.38 L81.03 101.92 L81.16 101.46 L81.28 101.00 L81.41 100.54 L81.54 100.07 L81.66 99.61 L81.79 99.15 L81.91 98.69 L82.04 98.23 L82.16 97.77 L82.28 97.30 L82.40 96.84 L82.52 96.38 L82.64 95.92 L82.76 95.45 L82.87 94.99 L82.99 94.53 L83.10 94.06 L83.22 93.60 L83.33 93.14 L83.44 92.67 L83.56 92.21 L83.67 91.74 L83.78 91.28 L83.88 90.82 L83.99 90.35 L84.10 89.89 L84.21 89.42 L84.31 88.96 L84.41 88.50 L84.52 88.03 L84.62 87.57 L84.72 87.10 L84.82 86.64 L84.92 86.17 L85.02 85.71 L85.12 85.25 L85.21 84.78 L85.31 84.32 L85.40 83.85 L85.50 83.39 L85.59 82.92 L85.69 82.46 L85.78 82.00 L85.87 81.53 L85.96 81.07 L86.05 80.60 L86.15 80.14 L86.24 79.68 L86.33 79.21 L86.42 78.75 L86.51 78.29 L86.60 77.82 L86.69 77.36 L86.78 76.90 L86.87 76.43 L86.97 75.97 L87.06 75.51 L87.15 75.04 L87.24 74.58 L87.34 74.12 L87.43 73.65 L87.53 73.19 L87.62 72.73 L87.72 72.26 L87.81 71.80 L87.91 71.34 L88.01 70.88 L88.11 70.41 L88.21 69.95 L88.32 69.49 L88.42 69.03 L88.52 68.57 L88.63 68.10 L88.74 67.64 L88.85 67.18 L88.96 66.72 L89.07 66.26 L89.18 65.79 L89.30 65.33 L89.42 64.87 L89.54 64.41 L89.66 63.95 L89.78 63.49 L89.90 63.03 L90.03 62.57 L90.16 62.10 L90.29 61.64 L90.43 61.18 L90.56 60.72 L90.70 60.26 L90.84 59.80 L90.99 59.34 L91.13 58.88 L91.28 58.42 L91.43 57.96 L91.59 57.50 L91.74 57.04 L91.90 56.58 L92.07 56.12 L92.23 55.66 L92.40 55.21 L92.57 54.75 L92.75 54.29 L92.93 53.83 L93.11 53.37 L93.30 52.91 L93.49 52.45 L93.68 52.00 L93.87 51.54 L94.07 51.08 L94.28 50.63 L94.49 50.19 L94.70 49.75 L94.91 49.33 L95.14 48.91 L95.36 48.52 L95.59 48.13 L95.83 47.77 L96.07 47.42 L96.32 47.10 L96.57 46.80 L96.83 46.52 L97.10 46.27 L97.37 46.06 L97.65 45.87 L97.93 45.72 L98.22 45.60 L98.52 45.52 L98.83 45.47 L99.14 45.47 L99.46 45.51 L99.79 45.58 L100.12 45.70 L100.45 45.84 L100.79 46.02 L101.13 46.22 L101.47 46.46 L101.82 46.71 L102.16 46.99 L102.49 47.29 L102.83 47.61 L103.16 47.94 L103.49 48.29 L103.81 48.65 L104.13 49.02 L104.44 49.39 L104.74 49.77 L105.03 50.16 L105.32 50.55 L105.60 50.95 L105.87 51.35 L106.14 51.75 L106.39 52.16 L106.65 52.57 L106.89 52.99 L107.13 53.41 L107.37 53.84 L107.60 54.27 L107.82 54.70 L108.04 55.13 L108.26 55.57 L108.47 56.01 L108.68 56.45 L108.88 56.89 L109.08 57.34 L109.27 57.79 L109.47 58.24 L109.66 58.69 L109.85 59.15 L110.03 59.60 L110.21 60.06 L110.39 60.51 L110.57 60.97 L110.75 61.43 L110.93 61.88 L111.10 62.34 L111.28 62.80 L111.45 63.26 L111.63 63.71 L111.80 64.17 L111.98 64.62 L112.15 65.08 L112.33 65.53 L112.50 65.98 L112.68 66.43 L112.86 66.88 L113.04 67.33 L113.22 67.77 L113.41 68.22 L113.59 68.66 L113.77 69.10 L113.96 69.54 L114.15 69.98 L114.34 70.42 L114.53 70.85 L114.72 71.29 L114.91 71.72 L115.10 72.15 L115.30 72.58 L115.49 73.01 L115.69 73.44 L115.89 73.87 L116.08 74.30 L116.28 74.72 L116.49 75.15 L116.69 75.57 L116.89 75.99 L117.10 76.41 L117.30 76.83 L117.51 77.25 L117.72 77.67 L117.92 78.09 L118.13 78.51 L118.35 78.92 L118.56 79.34 L118.77 79.75 L118.99 80.17 L119.20 80.58 L119.42 80.99 L119.64 81.40 L119.86 81.81 L120.08 82.23 L120.30 82.64 L120.52 83.04 L120.74 83.45 L120.97 83.86 L121.19 84.27 L121.42 84.68 L121.65 85.08 L121.88 85.49 L122.11 85.90 L122.34 86.30 L122.57 86.71 L122.80 87.11 L123.04 87.52 L123.27 87.92 L123.51 88.33 L123.75 88.73 L123.98 89.14 L124.22 89.54 L124.46 89.94 L124.71 90.35 L124.95 90.75 L125.19 91.15 L125.44 91.56 L125.68 91.96 L125.93 92.36 L126.18 92.77 L126.43 93.17 L126.68 93.58 L126.93 93.98 L127.18 94.38 L127.44 94.79 L127.69 95.19 L127.95 95.60 L128.20 96.00 L128.46 96.41 L128.72 96.81 L128.98 97.22 L129.24 97.62 L129.50 98.03 L129.77 98.43 L130.03 98.84 L130.30 99.24 L130.56 99.65 L130.83 100.05 L131.10 100.45 L131.37 100.86 L131.65 101.26 L131.92 101.66 L132.20 102.06 L132.47 102.46 L132.75 102.86 L133.03 103.25 L133.31 103.65 L133.60 104.04 L133.88 104.43 L134.17 104.82 L134.46 105.21 L134.75 105.60 L135.04 105.98 L135.33 106.37 L135.63 106.75 L135.93 107.13 L136.23 107.50 L136.53 107.88 L136.83 108.25 L137.14 108.62 L137.45 108.99 L137.76 109.35 L138.07 109.71 L138.38 110.07 L138.70 110.43 L139.02 110.78 L139.34 111.13 L139.66 111.48 L139.99 111.82 L140.31 112.16 L140.64 112.50 L140.97 112.83 L141.31 113.16 L141.65 113.49 L141.99 113.81 L142.33 114.13 L142.67 114.44 L143.02 114.75 L143.37 115.06 L143.72 115.36 L144.08 115.66 L144.44 115.95 L144.80 116.24 L145.16 116.52 L145.53 116.80 L145.89 117.07 L146.27 117.34 L146.64 117.61 L147.02 117.87 L147.40 118.12 L147.78 118.37 L148.17 118.61 L148.56 118.85 L148.95 119.08 L149.35 119.31 L149.75 119.53 L150.15 119.75 L150.56 119.96 L150.96 120.16 L151.38 120.36 L151.79 120.55 L152.21 120.74 L152.63 120.92 L153.06 121.09 L153.49 121.26 L153.92 121.42 L154.35 121.57 L154.79 121.71 L155.23 121.85 L155.68 121.99 L156.13 122.11 L156.58 122.23 L157.04 122.35 L157.50 122.45 L157.96 122.55 L158.43 122.65 L158.89 122.74 L159.36 122.83 L159.84 122.91 L160.31 122.98 L160.79 123.05 L161.27 123.12 L161.75 123.19 L162.23 123.25 L162.71 123.30 L163.19 123.35 L163.68 123.41 L164.17 123.45 L164.65 123.50 L165.14 123.54 L165.63 123.58 L166.12 123.62 L166.61 123.66 L167.10 123.69 L167.59 123.73 L168.08 123.76 L168.57 123.79 L169.06 123.82 L169.55 123.86 L170.04 123.89 L170.52 123.92 L171.01 123.95 L171.50 123.99 L171.98 124.02 L172.46 124.06 L172.94 124.09 L173.42 124.13 L173.90 124.17 L174.38 124.21 L174.86 124.25 L175.33 124.29 L175.80 124.34 L176.28 124.38 L176.75 124.42 L177.22 124.47 L177.69 124.51 L178.16 124.56 L178.63 124.61 L179.10 124.65 L179.56 124.70 L180.03 124.75 L180.49 124.79 L180.96 124.84 L181.42 124.89 L181.89 124.93 L182.35 124.98 L182.82 125.02 L183.28 125.07 L183.74 125.11 L184.21 125.16 L184.67 125.20 L185.13 125.24 L185.60 125.29 L186.06 125.33 L186.53 125.37 L186.99 125.41 L187.45 125.44 L187.92 125.48 L188.38 125.52 L188.85 125.55 L189.31 125.58 L189.78 125.62 L190.25 125.65 L190.72 125.67 L191.18 125.70 L191.65 125.73 L192.12 125.75 L192.59 125.77 L193.06 125.79 L193.53 125.81 L194.01 125.83 L194.48 125.85 L194.95 125.86 L195.42 125.88 L195.90 125.89 L196.37 125.90 L196.85 125.91 L197.32 125.92 L197.80 125.93 L198.27 125.94 L198.75 125.95 L199.22 125.95 L199.70 125.96 L200.18 125.96 L200.65 125.96 L201.13 125.97 L201.61 125.97 L202.09 125.97 L202.56 125.97 L203.04 125.97 L203.52 125.97 L204.00 125.97 L204.48 125.96 L204.96 125.96 L205.43 125.96 L205.91 125.96 L206.39 125.95 L206.87 125.95 L207.35 125.94 L207.83 125.94 L208.31 125.93 L208.79 125.93 L209.27 125.92 L209.75 125.92 L210.22 125.91 L210.70 125.90 L211.18 125.90 L211.66 125.89 L212.14 125.89 L212.62 125.88 L213.10 125.87 L213.57 125.87 L214.05 125.86 L214.53 125.86 L215.01 125.85 L215.48 125.85 L215.96 125.84 L216.44 125.84 L216.91 125.84 L217.39 125.83 L217.86 125.83 L218.34 125.83 L218.81 125.83 L219.29 125.83 L219.76 125.82 L220.24 125.83 L220.71 125.83 L221.18 125.83 L221.65 125.83 L222.13 125.83 L222.60 125.84 L223.07 125.84 L223.54 125.85 L224.01 125.85 L224.48 125.86 L224.94 125.87 L225.41 125.88 L225.88 125.89 L226.35 125.90 L226.81 125.91 L227.28 125.93 L227.74 125.94 L228.20 125.96 L228.67 125.98 L229.13 126.00" fill="none" stroke="#ab2d97" stroke-width="2" stroke-linejoin="round" stroke-linecap="round"/>
<text x="248.00" y="15.80" font-size="15.2" font-weight="bold" text-anchor="start" fill="#222" stroke="#222" stroke-width="0.22" >B</text>
<line x1="264.40" y1="20.30" x2="276.50" y2="20.30" stroke="#161616" stroke-width="2" />
<line x1="264.40" y1="30.60" x2="276.50" y2="30.60" stroke="#ab2d97" stroke-width="2" />
<line x1="381.30" y1="20.30" x2="393.60" y2="20.30" stroke="#7db44b" stroke-width="2" />
<line x1="381.30" y1="30.60" x2="393.60" y2="30.60" stroke="#3b80c4" stroke-width="2" />
<text x="276.60" y="23.00" font-size="7.6" font-weight="bold" text-anchor="start" fill="#222" stroke="#222" stroke-width="0.22" textLength="66.10" lengthAdjust="spacingAndGlyphs" >Poly(E6K3Y) Batch A</text>
<text x="276.60" y="33.30" font-size="7.6" font-weight="bold" text-anchor="start" fill="#222" stroke="#222" stroke-width="0.22" textLength="57.60" lengthAdjust="spacingAndGlyphs" >Poly(E4Y) Batch Z</text>
<text x="393.60" y="23.00" font-size="7.6" font-weight="bold" text-anchor="start" fill="#222" stroke="#222" stroke-width="0.22" textLength="57.60" lengthAdjust="spacingAndGlyphs" >Poly(E4Y) Batch C</text>
<text x="393.60" y="33.30" font-size="7.6" font-weight="bold" text-anchor="start" fill="#222" stroke="#222" stroke-width="0.22" textLength="58.30" lengthAdjust="spacingAndGlyphs" >Poly(K4Y) Batch A</text>
<line x1="252.20" y1="34.40" x2="252.20" y2="136.40" stroke="#2a2a2a" stroke-width="1.3" />
<line x1="252.20" y1="136.40" x2="467.00" y2="136.40" stroke="#2a2a2a" stroke-width="1.3" />
<line x1="250.50" y1="54.70" x2="254.00" y2="54.70" stroke="#2a2a2a" stroke-width="1.3" />
<line x1="250.50" y1="95.50" x2="254.00" y2="95.50" stroke="#2a2a2a" stroke-width="1.3" />
<line x1="250.50" y1="136.40" x2="254.00" y2="136.40" stroke="#2a2a2a" stroke-width="1.3" />
<line x1="252.00" y1="134.40" x2="252.00" y2="138.40" stroke="#2a2a2a" stroke-width="1.3" />
<line x1="285.10" y1="134.40" x2="285.10" y2="138.40" stroke="#2a2a2a" stroke-width="1.3" />
<line x1="318.30" y1="134.40" x2="318.30" y2="138.40" stroke="#2a2a2a" stroke-width="1.3" />
<line x1="351.20" y1="134.40" x2="351.20" y2="138.40" stroke="#2a2a2a" stroke-width="1.3" />
<line x1="384.00" y1="134.40" x2="384.00" y2="138.40" stroke="#2a2a2a" stroke-width="1.3" />
<line x1="417.30" y1="134.40" x2="417.30" y2="138.40" stroke="#2a2a2a" stroke-width="1.3" />
<line x1="450.00" y1="134.40" x2="450.00" y2="138.40" stroke="#2a2a2a" stroke-width="1.3" />
<text x="250.30" y="29.00" font-size="6.0" font-weight="bold" text-anchor="end" fill="#222" stroke="#222" stroke-width="0.22" textLength="12.00" lengthAdjust="spacingAndGlyphs" >mAU</text>
<text x="247.20" y="57.00" font-size="6.5" font-weight="bold" text-anchor="end" fill="#222" stroke="#222" stroke-width="0.22" >70</text>
<text x="247.20" y="97.80" font-size="6.5" font-weight="bold" text-anchor="end" fill="#222" stroke="#222" stroke-width="0.22" >30</text>
<text x="247.20" y="138.70" font-size="6.5" font-weight="bold" text-anchor="end" fill="#222" stroke="#222" stroke-width="0.22" >-10</text>
<text x="252.00" y="146.10" font-size="6.8" font-weight="bold" text-anchor="middle" fill="#222" stroke="#222" stroke-width="0.22" >10</text>
<text x="285.10" y="146.10" font-size="6.8" font-weight="bold" text-anchor="middle" fill="#222" stroke="#222" stroke-width="0.22" >30</text>
<text x="318.30" y="146.10" font-size="6.8" font-weight="bold" text-anchor="middle" fill="#222" stroke="#222" stroke-width="0.22" >50</text>
<text x="351.20" y="146.10" font-size="6.8" font-weight="bold" text-anchor="middle" fill="#222" stroke="#222" stroke-width="0.22" >70</text>
<text x="384.00" y="146.10" font-size="6.8" font-weight="bold" text-anchor="middle" fill="#222" stroke="#222" stroke-width="0.22" >90</text>
<text x="417.30" y="146.10" font-size="6.8" font-weight="bold" text-anchor="middle" fill="#222" stroke="#222" stroke-width="0.22" >110</text>
<text x="450.00" y="146.10" font-size="6.8" font-weight="bold" text-anchor="middle" fill="#222" stroke="#222" stroke-width="0.22" >130</text>
<text x="357.00" y="155.30" font-size="7.3" font-weight="bold" text-anchor="middle" fill="#222" stroke="#222" stroke-width="0.22" textLength="67.00" lengthAdjust="spacingAndGlyphs" >Elution Volume (mL)</text>
<path d="M252.50 127.80 L253.00 127.80 L253.50 127.80 L254.00 127.80 L254.50 127.80 L255.00 127.80 L255.50 127.80 L256.00 127.80 L256.50 127.80 L257.00 127.80 L257.50 127.80 L258.00 127.80" fill="none" stroke="#7db44b" stroke-width="2" stroke-linejoin="round" stroke-linecap="round" />
<path d="M258.09 125.90 L258.63 125.94 L259.18 125.98 L259.73 126.03 L260.27 126.06 L260.82 126.10 L261.36 126.13 L261.90 126.16 L262.44 126.19 L262.98 126.22 L263.52 126.24 L264.06 126.26 L264.60 126.28 L265.14 126.30 L265.67 126.31 L266.21 126.33 L266.74 126.34 L267.28 126.35 L267.81 126.36 L268.34 126.36 L268.88 126.37 L269.41 126.37 L269.94 126.37 L270.47 126.37 L271.00 126.37 L271.53 126.36 L272.06 126.36 L272.59 126.35 L273.11 126.35 L273.64 126.34 L274.17 126.33 L274.70 126.32 L275.22 126.31 L275.75 126.30 L276.28 126.28 L276.80 126.27 L277.33 126.25 L277.85 126.24 L278.38 126.22 L278.90 126.20 L279.42 126.19 L279.95 126.17 L280.47 126.15 L281.00 126.13 L281.52 126.11 L282.04 126.09 L282.57 126.08 L283.09 126.06 L283.61 126.04 L284.14 126.02 L284.66 126.00 L285.18 125.98 L285.71 125.96 L286.23 125.94 L286.76 125.92 L287.28 125.90 L287.80 125.88 L288.33 125.86 L288.85 125.85 L289.38 125.83 L289.90 125.81 L290.43 125.80 L290.95 125.78 L291.48 125.77 L292.00 125.76 L292.53 125.74 L293.05 125.73 L293.58 125.72 L294.11 125.71 L294.63 125.70 L295.16 125.70 L295.69 125.69 L296.22 125.69 L296.75 125.68 L297.28 125.68 L297.81 125.68 L298.34 125.68 L298.87 125.68 L299.40 125.69 L299.94 125.69 L300.47 125.70 L301.00 125.71 L301.54 125.72 L302.07 125.73 L302.61 125.75 L303.14 125.76 L303.68 125.78 L304.22 125.80 L304.76 125.83 L305.30 125.85 L305.84 125.88 L306.38 125.91 L306.92 125.94 L307.47 125.98 L308.01 126.01 L308.55 126.05 L309.10 126.08 L309.64 126.12 L310.19 126.16 L310.73 126.20 L311.27 126.23 L311.82 126.27 L312.36 126.30 L312.91 126.34 L313.45 126.37 L313.99 126.40 L314.54 126.42 L315.08 126.45 L315.62 126.47 L316.16 126.49 L316.70 126.50 L317.23 126.51 L317.77 126.52 L318.31 126.52 L318.84 126.52 L319.37 126.51 L319.90 126.50 L320.43 126.48 L320.96 126.46 L321.48 126.42 L322.01 126.39 L322.53 126.34 L323.05 126.29 L323.57 126.23 L324.08 126.16 L324.59 126.09 L325.10 126.00 L325.61 125.91 L326.11 125.81 L326.62 125.69 L327.11 125.57 L327.61 125.44 L328.10 125.30 L328.59 125.15 L329.08 124.98 L329.56 124.81 L330.04 124.62 L330.51 124.43 L330.98 124.23 L331.45 124.01 L331.92 123.79 L332.38 123.56 L332.83 123.32 L333.28 123.07 L333.73 122.81 L334.17 122.54 L334.61 122.27 L335.04 121.98 L335.47 121.69 L335.89 121.39 L336.31 121.08 L336.72 120.76 L337.13 120.44 L337.53 120.11 L337.93 119.77 L338.32 119.43 L338.71 119.08 L339.09 118.72 L339.46 118.36 L339.83 117.99 L340.19 117.61 L340.55 117.23 L340.89 116.84 L341.24 116.45 L341.57 116.05 L341.90 115.65 L342.23 115.24 L342.54 114.82 L342.85 114.41 L343.16 113.98 L343.45 113.55 L343.74 113.12 L344.03 112.69 L344.31 112.25 L344.58 111.80 L344.85 111.35 L345.11 110.90 L345.37 110.44 L345.62 109.98 L345.86 109.52 L346.10 109.05 L346.34 108.58 L346.57 108.11 L346.80 107.63 L347.02 107.15 L347.23 106.67 L347.45 106.18 L347.66 105.69 L347.86 105.20 L348.06 104.71 L348.26 104.21 L348.45 103.71 L348.64 103.21 L348.82 102.71 L349.01 102.20 L349.18 101.70 L349.36 101.19 L349.53 100.68 L349.70 100.16 L349.87 99.65 L350.03 99.13 L350.19 98.62 L350.35 98.10 L350.51 97.58 L350.66 97.06 L350.82 96.54 L350.97 96.02 L351.11 95.49 L351.26 94.97 L351.41 94.45 L351.55 93.92 L351.69 93.40 L351.83 92.87 L351.97 92.35 L352.11 91.82 L352.25 91.30 L352.38 90.78 L352.52 90.25 L352.66 89.73 L352.79 89.20 L352.93 88.68 L353.06 88.16 L353.20 87.64 L353.33 87.12 L353.46 86.60 L353.60 86.08 L353.74 85.57 L353.87 85.05 L354.01 84.54 L354.15 84.03 L354.28 83.52 L354.42 83.01 L354.56 82.50 L354.70 82.00 L354.85 81.49 L354.99 80.99 L355.14 80.50 L355.29 80.00 L355.43 79.50 L355.58 79.01 L355.74 78.52 L355.89 78.03 L356.04 77.54 L356.20 77.05 L356.35 76.57 L356.51 76.08 L356.66 75.60 L356.82 75.11 L356.98 74.63 L357.14 74.14 L357.30 73.66 L357.46 73.17 L357.62 72.69 L357.78 72.20 L357.94 71.72 L358.10 71.23 L358.26 70.74 L358.43 70.25 L358.59 69.76 L358.75 69.27 L358.91 68.77 L359.07 68.28 L359.23 67.78 L359.39 67.28 L359.55 66.78 L359.71 66.27 L359.87 65.77 L360.03 65.26 L360.19 64.74 L360.35 64.23 L360.50 63.71 L360.66 63.19 L360.81 62.66 L360.96 62.13 L361.12 61.60 L361.27 61.06 L361.42 60.52 L361.57 59.97 L361.72 59.42 L361.86 58.87 L362.01 58.32 L362.16 57.77 L362.31 57.21 L362.46 56.66 L362.62 56.11 L362.78 55.56 L362.94 55.02 L363.10 54.48 L363.27 53.94 L363.44 53.41 L363.61 52.88 L363.80 52.37 L363.98 51.86 L364.18 51.36 L364.38 50.87 L364.58 50.39 L364.80 49.92 L365.02 49.46 L365.25 49.02 L365.49 48.59 L365.74 48.17 L366.00 47.77 L366.27 47.39 L366.55 47.02 L366.84 46.67 L367.15 46.34 L367.46 46.02 L367.79 45.73 L368.13 45.46 L368.49 45.21 L368.85 44.98 L369.23 44.78 L369.62 44.62 L370.02 44.50 L370.41 44.43 L370.81 44.42 L371.20 44.47 L371.59 44.60 L371.96 44.80 L372.33 45.08 L372.68 45.41 L373.03 45.81 L373.35 46.24 L373.67 46.71 L373.97 47.20 L374.26 47.71 L374.53 48.22 L374.78 48.73 L375.02 49.24 L375.25 49.76 L375.46 50.27 L375.66 50.79 L375.85 51.31 L376.04 51.83 L376.21 52.35 L376.38 52.86 L376.54 53.38 L376.69 53.90 L376.85 54.42 L376.99 54.94 L377.14 55.45 L377.29 55.97 L377.43 56.48 L377.58 57.00 L377.72 57.51 L377.87 58.02 L378.03 58.53 L378.18 59.03 L378.34 59.54 L378.51 60.04 L378.67 60.54 L378.84 61.04 L379.01 61.54 L379.18 62.04 L379.35 62.53 L379.53 63.03 L379.70 63.52 L379.88 64.02 L380.06 64.51 L380.23 65.00 L380.41 65.49 L380.59 65.99 L380.77 66.48 L380.95 66.97 L381.14 67.46 L381.31 67.95 L381.49 68.44 L381.67 68.94 L381.85 69.43 L382.03 69.92 L382.20 70.42 L382.38 70.91 L382.55 71.40 L382.72 71.90 L382.89 72.40 L383.06 72.90 L383.23 73.39 L383.39 73.89 L383.55 74.40 L383.71 74.90 L383.86 75.40 L384.01 75.91 L384.16 76.42 L384.31 76.93 L384.45 77.44 L384.60 77.95 L384.74 78.46 L384.88 78.97 L385.02 79.48 L385.15 80.00 L385.29 80.51 L385.42 81.03 L385.55 81.55 L385.68 82.07 L385.81 82.58 L385.94 83.10 L386.06 83.62 L386.19 84.14 L386.32 84.66 L386.44 85.18 L386.57 85.71 L386.69 86.23 L386.81 86.75 L386.94 87.27 L387.06 87.79 L387.18 88.31 L387.31 88.84 L387.43 89.36 L387.56 89.88 L387.68 90.40 L387.81 90.92 L387.93 91.45 L388.06 91.97 L388.19 92.49 L388.32 93.01 L388.45 93.53 L388.58 94.05 L388.71 94.57 L388.84 95.09 L388.98 95.60 L389.12 96.12 L389.25 96.64 L389.40 97.15 L389.54 97.67 L389.68 98.18 L389.83 98.69 L389.98 99.20 L390.13 99.71 L390.28 100.22 L390.44 100.73 L390.60 101.24 L390.76 101.74 L390.93 102.25 L391.10 102.75 L391.27 103.25 L391.44 103.75 L391.62 104.25 L391.80 104.75 L391.99 105.24 L392.17 105.73 L392.37 106.23 L392.56 106.72 L392.76 107.20 L392.97 107.69 L393.18 108.17 L393.39 108.66 L393.61 109.14 L393.83 109.61 L394.05 110.09 L394.29 110.56 L394.52 111.03 L394.76 111.50 L395.01 111.97 L395.26 112.43 L395.52 112.89 L395.78 113.34 L396.04 113.79 L396.32 114.24 L396.59 114.68 L396.88 115.12 L397.17 115.55 L397.46 115.97 L397.76 116.39 L398.07 116.81 L398.38 117.21 L398.70 117.61 L399.02 118.01 L399.35 118.39 L399.69 118.77 L400.03 119.14 L400.38 119.50 L400.74 119.85 L401.10 120.20 L401.47 120.53 L401.85 120.86 L402.23 121.17 L402.62 121.48 L403.02 121.77 L403.43 122.06 L403.84 122.33 L404.26 122.59 L404.68 122.84 L405.12 123.08 L405.56 123.30 L406.01 123.51 L406.46 123.71 L406.93 123.90 L407.40 124.07 L407.88 124.23 L408.36 124.38 L408.85 124.52 L409.35 124.65 L409.86 124.76 L410.37 124.87 L410.88 124.96 L411.41 125.05 L411.93 125.13 L412.46 125.19 L413.00 125.25 L413.54 125.31 L414.08 125.35 L414.63 125.39 L415.18 125.42 L415.73 125.45 L416.28 125.47 L416.84 125.48 L417.40 125.49 L417.96 125.50 L418.52 125.50 L419.09 125.50 L419.65 125.50 L420.21 125.49 L420.78 125.48 L421.34 125.47 L421.91 125.46 L422.47 125.45 L423.03 125.44 L423.60 125.42 L424.16 125.41 L424.71 125.40 L425.27 125.39 L425.82 125.38 L426.38 125.38 L426.93 125.37 L427.47 125.37 L428.02 125.37 L428.56 125.37 L429.10 125.37 L429.64 125.37 L430.18 125.37 L430.72 125.38 L431.25 125.38 L431.78 125.39 L432.31 125.40 L432.84 125.41 L433.37 125.42 L433.90 125.43 L434.43 125.44 L434.95 125.45 L435.47 125.47 L436.00 125.48 L436.52 125.49 L437.04 125.51 L437.56 125.53 L438.08 125.54 L438.59 125.56 L439.11 125.58 L439.63 125.59 L440.14 125.61 L440.66 125.63 L441.17 125.65 L441.69 125.67 L442.20 125.69 L442.72 125.71 L443.23 125.73 L443.75 125.74 L444.26 125.76 L444.77 125.78 L445.29 125.80 L445.80 125.82 L446.32 125.84 L446.83 125.85 L447.35 125.87 L447.86 125.89 L448.38 125.90 L448.90 125.92 L449.41 125.94 L449.93 125.95 L450.45 125.96 L450.97 125.98 L451.49 125.99 L452.01 126.00 L452.53 126.01 L453.06 126.02 L453.58 126.03 L454.11 126.04 L454.63 126.05 L455.16 126.05 L455.69 126.06 L456.22 126.06 L456.75 126.06 L457.29 126.06 L457.82 126.06 L458.36 126.06 L458.90 126.06 L459.44 126.05 L459.98 126.04 L460.53 126.04 L461.07 126.03 L461.62 126.01 L462.17 126.00 L462.73 125.98 L463.28 125.97 L463.84 125.95 L464.40 125.93 L464.96 125.90 L465.53 125.88 L466.10 125.85 L466.67 125.82 L467.24 125.79" fill="none" stroke="#7db44b" stroke-width="2" stroke-linejoin="round" stroke-linecap="round"/>
<path d="M252.43 126.37 L252.84 126.40 L253.24 126.42 L253.64 126.43 L254.05 126.45 L254.45 126.47 L254.85 126.48 L255.25 126.50 L255.65 126.51 L256.05 126.52 L256.45 126.53 L256.85 126.54 L257.24 126.55 L257.64 126.56 L258.04 126.56 L258.43 126.57 L258.83 126.57 L259.22 126.58 L259.62 126.58 L260.01 126.58 L260.40 126.58 L260.80 126.58 L261.19 126.58 L261.58 126.58 L261.98 126.58 L262.37 126.58 L262.76 126.58 L263.15 126.57 L263.54 126.57 L263.93 126.56 L264.32 126.56 L264.71 126.55 L265.10 126.55 L265.49 126.54 L265.88 126.53 L266.27 126.53 L266.66 126.52 L267.05 126.51 L267.43 126.50 L267.82 126.49 L268.21 126.48 L268.60 126.48 L268.99 126.47 L269.37 126.46 L269.76 126.45 L270.15 126.44 L270.54 126.43 L270.93 126.42 L271.32 126.41 L271.70 126.40 L272.09 126.39 L272.48 126.38 L272.87 126.38 L273.26 126.37 L273.64 126.36 L274.03 126.35 L274.42 126.34 L274.81 126.33 L275.20 126.33 L275.59 126.32 L275.98 126.31 L276.37 126.31 L276.76 126.30 L277.15 126.30 L277.54 126.29 L277.93 126.29 L278.32 126.28 L278.71 126.28 L279.11 126.28 L279.50 126.27 L279.89 126.27 L280.28 126.27 L280.68 126.27 L281.07 126.27 L281.46 126.27 L281.86 126.28 L282.25 126.28 L282.65 126.28 L283.05 126.29 L283.44 126.29 L283.84 126.30 L284.24 126.31 L284.64 126.32 L285.03 126.33 L285.43 126.34 L285.83 126.35 L286.23 126.36 L286.64 126.38 L287.04 126.39 L287.44 126.41 L287.84 126.43 L288.25 126.45 L288.65 126.47 L289.06 126.48 L289.46 126.50 L289.87 126.52 L290.27 126.54 L290.67 126.55 L291.08 126.57 L291.48 126.58 L291.88 126.59 L292.28 126.60 L292.68 126.60 L293.08 126.60 L293.48 126.60 L293.87 126.59 L294.27 126.58 L294.66 126.57 L295.05 126.55 L295.44 126.52 L295.83 126.49 L296.21 126.46 L296.60 126.42 L296.98 126.37 L297.35 126.31 L297.73 126.25 L298.10 126.18 L298.47 126.10 L298.84 126.02 L299.20 125.93 L299.56 125.82 L299.91 125.71 L300.27 125.59 L300.61 125.46 L300.96 125.32 L301.30 125.17 L301.63 125.01 L301.97 124.84 L302.29 124.66 L302.61 124.47 L302.93 124.26 L303.23 124.04 L303.53 123.81 L303.82 123.57 L304.10 123.31 L304.37 123.04 L304.63 122.76 L304.88 122.46 L305.11 122.14 L305.33 121.82 L305.54 121.47 L305.74 121.11 L305.91 120.74 L306.08 120.35 L306.23 119.97 L306.37 119.61 L306.50 119.28 L306.63 118.98 L306.75 118.74 L306.88 118.57 L307.00 118.47 L307.12 118.46 L307.25 118.56 L307.38 118.74 L307.52 118.98 L307.67 119.27 L307.83 119.58 L308.00 119.88 L308.19 120.17 L308.38 120.46 L308.59 120.74 L308.81 121.01 L309.04 121.27 L309.29 121.53 L309.54 121.77 L309.80 122.01 L310.07 122.24 L310.35 122.46 L310.64 122.67 L310.94 122.87 L311.24 123.07 L311.56 123.25 L311.88 123.42 L312.20 123.59 L312.54 123.74 L312.88 123.89 L313.22 124.02 L313.57 124.15 L313.93 124.26 L314.29 124.37 L314.66 124.46 L315.02 124.54 L315.40 124.62 L315.77 124.68 L316.15 124.73 L316.53 124.77 L316.92 124.80 L317.30 124.81 L317.69 124.82 L318.08 124.82 L318.47 124.81 L318.86 124.79 L319.25 124.76 L319.65 124.72 L320.04 124.67 L320.44 124.62 L320.84 124.55 L321.23 124.48 L321.63 124.40 L322.03 124.31 L322.42 124.22 L322.82 124.12 L323.21 124.01 L323.61 123.90 L324.00 123.77 L324.39 123.65 L324.78 123.51 L325.17 123.38 L325.56 123.23 L325.95 123.08 L326.33 122.93 L326.71 122.77 L327.09 122.61 L327.46 122.44 L327.84 122.27 L328.21 122.10 L328.57 121.92 L328.93 121.74 L329.29 121.56 L329.65 121.37 L330.00 121.18 L330.35 120.99 L330.69 120.80 L331.03 120.61 L331.36 120.41 L331.69 120.21 L332.02 120.01 L332.34 119.81 L332.66 119.61 L332.97 119.40 L333.28 119.19 L333.59 118.97 L333.89 118.76 L334.19 118.54 L334.48 118.32 L334.77 118.09 L335.06 117.86 L335.35 117.63 L335.63 117.40 L335.91 117.16 L336.19 116.92 L336.46 116.67 L336.74 116.42 L337.01 116.17 L337.27 115.91 L337.54 115.64 L337.80 115.38 L338.06 115.11 L338.32 114.83 L338.57 114.55 L338.83 114.26 L339.08 113.97 L339.33 113.68 L339.58 113.38 L339.82 113.07 L340.07 112.76 L340.31 112.45 L340.56 112.12 L340.80 111.80 L341.04 111.46 L341.28 111.13 L341.52 110.78 L341.76 110.43 L341.99 110.08 L342.23 109.73 L342.47 109.37 L342.71 109.02 L342.95 108.67 L343.19 108.32 L343.44 107.97 L343.68 107.64 L343.93 107.30 L344.18 106.98 L344.44 106.66 L344.70 106.35 L344.96 106.06 L345.22 105.78 L345.49 105.51 L345.77 105.26 L346.05 105.02 L346.33 104.80 L346.62 104.60 L346.92 104.41 L347.22 104.25 L347.53 104.11 L347.85 104.00 L348.17 103.91 L348.50 103.84 L348.84 103.80 L349.19 103.79 L349.55 103.81 L349.91 103.85 L350.28 103.91 L350.65 104.00 L351.03 104.10 L351.41 104.22 L351.79 104.35 L352.18 104.50 L352.57 104.67 L352.95 104.84 L353.34 105.02 L353.72 105.20 L354.11 105.39 L354.49 105.59 L354.87 105.78 L355.24 105.98 L355.61 106.17 L355.97 106.36 L356.33 106.55 L356.68 106.74 L357.03 106.92 L357.38 107.11 L357.72 107.29 L358.06 107.47 L358.40 107.65 L358.74 107.83 L359.08 108.02 L359.41 108.20 L359.74 108.38 L360.08 108.56 L360.41 108.74 L360.74 108.92 L361.07 109.10 L361.41 109.28 L361.74 109.47 L362.08 109.65 L362.41 109.84 L362.75 110.02 L363.09 110.21 L363.43 110.40 L363.77 110.59 L364.11 110.77 L364.45 110.96 L364.79 111.15 L365.14 111.34 L365.48 111.53 L365.82 111.72 L366.17 111.91 L366.52 112.09 L366.86 112.28 L367.21 112.47 L367.56 112.66 L367.91 112.84 L368.26 113.03 L368.61 113.21 L368.96 113.40 L369.31 113.58 L369.66 113.76 L370.02 113.94 L370.37 114.12 L370.72 114.30 L371.08 114.48 L371.44 114.65 L371.79 114.82 L372.15 115.00 L372.51 115.17 L372.87 115.34 L373.23 115.50 L373.59 115.67 L373.95 115.83 L374.31 115.99 L374.67 116.15 L375.03 116.30 L375.40 116.46 L375.76 116.61 L376.13 116.76 L376.49 116.90 L376.86 117.05 L377.22 117.19 L377.59 117.33 L377.96 117.47 L378.33 117.61 L378.70 117.74 L379.06 117.87 L379.43 118.00 L379.80 118.13 L380.18 118.26 L380.55 118.38 L380.92 118.51 L381.29 118.63 L381.66 118.75 L382.04 118.86 L382.41 118.98 L382.79 119.09 L383.16 119.20 L383.54 119.31 L383.91 119.42 L384.29 119.53 L384.66 119.63 L385.04 119.74 L385.42 119.84 L385.80 119.94 L386.18 120.04 L386.55 120.13 L386.93 120.23 L387.31 120.32 L387.69 120.41 L388.07 120.50 L388.45 120.59 L388.83 120.68 L389.22 120.77 L389.60 120.85 L389.98 120.93 L390.36 121.02 L390.75 121.10 L391.13 121.18 L391.51 121.25 L391.89 121.33 L392.28 121.41 L392.66 121.48 L393.05 121.55 L393.43 121.62 L393.82 121.69 L394.20 121.76 L394.59 121.83 L394.97 121.90 L395.36 121.96 L395.75 122.03 L396.13 122.09 L396.52 122.16 L396.91 122.22 L397.29 122.28 L397.68 122.34 L398.07 122.40 L398.45 122.45 L398.84 122.51 L399.23 122.57 L399.62 122.62 L400.01 122.67 L400.39 122.73 L400.78 122.78 L401.17 122.83 L401.56 122.88 L401.95 122.93 L402.34 122.98 L402.73 123.03 L403.12 123.08 L403.50 123.12 L403.89 123.17 L404.28 123.22 L404.67 123.26 L405.06 123.31 L405.45 123.35 L405.84 123.39 L406.23 123.44 L406.62 123.48 L407.01 123.52 L407.40 123.56 L407.79 123.60 L408.18 123.64 L408.57 123.68 L408.96 123.71 L409.35 123.75 L409.74 123.79 L410.13 123.82 L410.52 123.86 L410.91 123.89 L411.30 123.93 L411.69 123.96 L412.08 123.99 L412.47 124.03 L412.87 124.06 L413.26 124.09 L413.65 124.12 L414.04 124.15 L414.43 124.18 L414.82 124.21 L415.21 124.24 L415.60 124.27 L415.99 124.29 L416.39 124.32 L416.78 124.35 L417.17 124.37 L417.56 124.40 L417.95 124.42 L418.34 124.45 L418.74 124.47 L419.13 124.50 L419.52 124.52 L419.91 124.54 L420.30 124.57 L420.69 124.59 L421.09 124.61 L421.48 124.63 L421.87 124.65 L422.26 124.67 L422.65 124.69 L423.05 124.71 L423.44 124.73 L423.83 124.75 L424.22 124.77 L424.61 124.78 L425.01 124.80 L425.40 124.82 L425.79 124.83 L426.18 124.85 L426.58 124.87 L426.97 124.88 L427.36 124.90 L427.75 124.91 L428.15 124.93 L428.54 124.94 L428.93 124.96 L429.32 124.97 L429.72 124.98 L430.11 125.00 L430.50 125.01 L430.89 125.02 L431.29 125.03 L431.68 125.04 L432.07 125.06 L432.47 125.07 L432.86 125.08 L433.25 125.09 L433.64 125.10 L434.04 125.11 L434.43 125.12 L434.82 125.13 L435.22 125.14 L435.61 125.15 L436.00 125.16 L436.39 125.17 L436.79 125.18 L437.18 125.18 L437.57 125.19 L437.97 125.20 L438.36 125.21 L438.75 125.22 L439.14 125.22 L439.54 125.23 L439.93 125.24 L440.32 125.25 L440.72 125.25 L441.11 125.26 L441.50 125.27 L441.89 125.27 L442.29 125.28 L442.68 125.29 L443.07 125.29 L443.46 125.30 L443.86 125.31 L444.25 125.31 L444.64 125.32 L445.04 125.32 L445.43 125.33 L445.82 125.33 L446.21 125.34 L446.61 125.35 L447.00 125.35 L447.39 125.36 L447.78 125.36 L448.18 125.37 L448.57 125.37 L448.96 125.38 L449.35 125.38 L449.75 125.39 L450.14 125.39 L450.53 125.40 L450.92 125.41 L451.32 125.41 L451.71 125.42 L452.10 125.42 L452.49 125.43 L452.89 125.43 L453.28 125.44 L453.67 125.44 L454.06 125.45 L454.46 125.46 L454.85 125.46 L455.24 125.47 L455.63 125.47 L456.02 125.48 L456.42 125.49 L456.81 125.49 L457.20 125.50 L457.59 125.50 L457.98 125.51 L458.37 125.52 L458.77 125.53 L459.16 125.53 L459.55 125.54 L459.94 125.55 L460.33 125.55 L460.72 125.56 L461.11 125.57 L461.51 125.58 L461.90 125.59 L462.29 125.59 L462.68 125.60 L463.07 125.61 L463.46 125.62 L463.85 125.63 L464.24 125.64 L464.63 125.65 L465.03 125.66 L465.42 125.67 L465.81 125.68 L466.20 125.69 L466.59 125.70 L466.98 125.71" fill="none" stroke="#161616" stroke-width="2" stroke-linejoin="round" stroke-linecap="round"/>
<path d="M252.50 124.00 L253.00 124.00 L253.50 124.00 L254.00 124.00 L254.50 124.00 L255.00 124.00 L255.50 124.00 L256.00 124.00 L256.50 124.00 L257.00 124.00 L257.50 124.00 L258.00 124.00 L258.50 124.00 L259.00 124.00 L259.50 124.00 L260.00 124.00 L260.50 124.00 L261.00 124.00 L261.50 124.00 L262.00 124.00 L262.50 124.00 L263.00 124.00 L263.50 124.00 L264.00 124.00 L264.50 124.00 L265.00 124.00 L265.50 124.00 L266.00 124.00 L266.50 124.00 L267.00 124.00 L267.50 124.00 L268.00 124.00 L268.50 124.00 L269.00 124.00 L269.50 124.00 L270.00 124.00 L270.50 124.00 L271.00 124.00 L271.50 124.00 L272.00 124.00 L272.50 124.00 L273.00 124.00 L273.50 124.00 L274.00 124.00 L274.50 124.00 L275.00 124.00 L275.50 124.00 L276.00 124.00 L276.50 124.00 L277.00 124.00 L277.50 124.00 L278.00 124.00 L278.50 124.00 L279.00 124.00 L279.50 124.00 L280.00 124.00 L280.50 124.00 L281.00 124.00 L281.50 124.00 L282.00 124.00 L282.50 124.00 L283.00 124.00 L283.50 124.00 L284.00 124.00 L284.50 124.00" fill="none" stroke="#ab2d97" stroke-width="2" stroke-linejoin="round" stroke-linecap="round" />
<line x1="284.90" y1="124.00" x2="284.90" y2="125.60" stroke="#ab2d97" stroke-width="2" />
<path d="M285.03 125.61 L285.49 125.61 L285.94 125.60 L286.40 125.60 L286.87 125.60 L287.33 125.60 L287.80 125.61 L288.26 125.61 L288.73 125.61 L289.21 125.62 L289.68 125.62 L290.16 125.62 L290.63 125.63 L291.11 125.63 L291.59 125.64 L292.07 125.65 L292.55 125.65 L293.03 125.66 L293.51 125.66 L293.99 125.67 L294.47 125.67 L294.95 125.68 L295.43 125.68 L295.91 125.69 L296.39 125.69 L296.86 125.70 L297.34 125.70 L297.81 125.70 L298.29 125.70 L298.76 125.70 L299.23 125.70 L299.70 125.70 L300.16 125.70 L300.63 125.70 L301.09 125.69 L301.55 125.69 L302.00 125.68 L302.46 125.67 L302.91 125.66 L303.35 125.65 L303.80 125.64 L304.25 125.63 L304.70 125.62 L305.15 125.61 L305.61 125.60 L306.08 125.60 L306.55 125.60 L307.04 125.60 L307.54 125.61 L308.05 125.63 L308.58 125.65 L309.12 125.67 L309.67 125.69 L310.21 125.70 L310.75 125.70 L311.27 125.68 L311.77 125.63 L312.24 125.55 L312.69 125.43 L313.09 125.27 L313.45 125.06 L313.77 124.82 L314.06 124.54 L314.32 124.23 L314.55 123.88 L314.75 123.51 L314.93 123.12 L315.09 122.70 L315.23 122.27 L315.36 121.83 L315.49 121.37 L315.60 120.91 L315.71 120.45 L315.82 119.98 L315.93 119.52 L316.03 119.06 L316.14 118.59 L316.25 118.13 L316.35 117.66 L316.46 117.20 L316.56 116.73 L316.66 116.27 L316.76 115.81 L316.87 115.34 L316.97 114.88 L317.07 114.41 L317.17 113.95 L317.26 113.49 L317.36 113.02 L317.46 112.56 L317.56 112.09 L317.66 111.63 L317.75 111.16 L317.85 110.70 L317.94 110.24 L318.04 109.77 L318.13 109.31 L318.23 108.85 L318.32 108.38 L318.42 107.92 L318.51 107.45 L318.61 106.99 L318.70 106.53 L318.79 106.06 L318.89 105.60 L318.98 105.14 L319.07 104.67 L319.16 104.21 L319.26 103.75 L319.35 103.28 L319.44 102.82 L319.54 102.36 L319.63 101.89 L319.72 101.43 L319.82 100.97 L319.91 100.51 L320.00 100.04 L320.10 99.58 L320.19 99.12 L320.28 98.66 L320.38 98.19 L320.47 97.73 L320.57 97.27 L320.66 96.81 L320.76 96.35 L320.85 95.89 L320.95 95.42 L321.05 94.96 L321.14 94.50 L321.24 94.04 L321.34 93.58 L321.44 93.12 L321.54 92.66 L321.64 92.20 L321.74 91.74 L321.84 91.28 L321.94 90.82 L322.04 90.36 L322.15 89.90 L322.25 89.44 L322.35 88.98 L322.46 88.52 L322.57 88.06 L322.67 87.60 L322.78 87.14 L322.89 86.68 L323.00 86.22 L323.11 85.76 L323.22 85.30 L323.33 84.85 L323.45 84.39 L323.56 83.93 L323.67 83.47 L323.79 83.01 L323.91 82.56 L324.02 82.10 L324.14 81.64 L324.26 81.19 L324.38 80.73 L324.50 80.27 L324.62 79.81 L324.74 79.36 L324.86 78.90 L324.98 78.44 L325.11 77.99 L325.23 77.53 L325.35 77.07 L325.48 76.62 L325.60 76.16 L325.73 75.70 L325.86 75.25 L325.98 74.79 L326.11 74.33 L326.24 73.88 L326.36 73.42 L326.49 72.97 L326.62 72.51 L326.75 72.05 L326.87 71.60 L327.00 71.14 L327.13 70.68 L327.26 70.23 L327.39 69.77 L327.52 69.31 L327.65 68.86 L327.78 68.40 L327.91 67.94 L328.04 67.48 L328.17 67.03 L328.30 66.57 L328.43 66.12 L328.56 65.66 L328.69 65.21 L328.83 64.75 L328.96 64.30 L329.09 63.84 L329.22 63.39 L329.36 62.94 L329.49 62.49 L329.63 62.04 L329.76 61.59 L329.90 61.14 L330.04 60.70 L330.17 60.25 L330.31 59.81 L330.45 59.37 L330.59 58.93 L330.73 58.49 L330.87 58.05 L331.02 57.61 L331.17 57.18 L331.32 56.74 L331.48 56.30 L331.64 55.87 L331.81 55.43 L331.99 55.00 L332.17 54.56 L332.36 54.12 L332.55 53.68 L332.76 53.24 L332.97 52.80 L333.20 52.36 L333.43 51.91 L333.67 51.47 L333.93 51.03 L334.19 50.60 L334.47 50.18 L334.75 49.78 L335.04 49.39 L335.33 49.03 L335.64 48.69 L335.95 48.38 L336.27 48.11 L336.60 47.89 L336.94 47.72 L337.29 47.63 L337.65 47.62 L338.01 47.69 L338.39 47.84 L338.76 48.05 L339.14 48.30 L339.51 48.57 L339.87 48.87 L340.23 49.17 L340.58 49.48 L340.92 49.79 L341.25 50.12 L341.57 50.45 L341.88 50.79 L342.19 51.14 L342.49 51.49 L342.79 51.85 L343.08 52.21 L343.36 52.58 L343.63 52.96 L343.90 53.34 L344.16 53.72 L344.42 54.11 L344.67 54.51 L344.92 54.91 L345.16 55.31 L345.40 55.71 L345.64 56.12 L345.86 56.53 L346.09 56.95 L346.31 57.37 L346.53 57.79 L346.74 58.21 L346.95 58.64 L347.15 59.07 L347.35 59.50 L347.55 59.93 L347.75 60.36 L347.94 60.80 L348.13 61.24 L348.32 61.68 L348.51 62.12 L348.69 62.57 L348.87 63.01 L349.05 63.46 L349.23 63.91 L349.40 64.35 L349.58 64.80 L349.75 65.25 L349.92 65.70 L350.09 66.15 L350.26 66.60 L350.43 67.06 L350.60 67.51 L350.77 67.96 L350.93 68.41 L351.10 68.86 L351.27 69.31 L351.44 69.76 L351.61 70.21 L351.77 70.66 L351.94 71.10 L352.11 71.55 L352.29 71.99 L352.46 72.44 L352.63 72.88 L352.81 73.32 L352.98 73.76 L353.16 74.20 L353.34 74.63 L353.51 75.07 L353.69 75.50 L353.88 75.94 L354.06 76.37 L354.24 76.80 L354.43 77.23 L354.61 77.66 L354.80 78.09 L354.99 78.52 L355.18 78.94 L355.37 79.37 L355.56 79.79 L355.75 80.21 L355.95 80.63 L356.14 81.05 L356.34 81.47 L356.54 81.89 L356.74 82.31 L356.94 82.73 L357.14 83.15 L357.34 83.56 L357.55 83.98 L357.75 84.39 L357.96 84.80 L358.17 85.22 L358.38 85.63 L358.59 86.04 L358.80 86.45 L359.02 86.86 L359.23 87.27 L359.45 87.67 L359.67 88.08 L359.89 88.49 L360.11 88.90 L360.33 89.30 L360.56 89.71 L360.78 90.11 L361.01 90.52 L361.24 90.92 L361.47 91.32 L361.70 91.73 L361.94 92.13 L362.17 92.53 L362.41 92.93 L362.64 93.33 L362.88 93.73 L363.12 94.13 L363.37 94.53 L363.61 94.93 L363.86 95.33 L364.10 95.73 L364.35 96.13 L364.60 96.53 L364.85 96.93 L365.11 97.33 L365.36 97.73 L365.62 98.12 L365.88 98.52 L366.14 98.92 L366.40 99.32 L366.66 99.72 L366.93 100.11 L367.20 100.51 L367.47 100.91 L367.74 101.31 L368.01 101.70 L368.28 102.10 L368.56 102.50 L368.83 102.89 L369.11 103.29 L369.39 103.69 L369.68 104.08 L369.96 104.48 L370.25 104.87 L370.54 105.26 L370.83 105.66 L371.12 106.05 L371.41 106.44 L371.71 106.83 L372.01 107.21 L372.31 107.60 L372.61 107.98 L372.91 108.36 L373.22 108.74 L373.53 109.12 L373.84 109.49 L374.15 109.87 L374.47 110.24 L374.78 110.61 L375.10 110.97 L375.42 111.33 L375.75 111.69 L376.07 112.05 L376.40 112.40 L376.73 112.75 L377.06 113.10 L377.39 113.45 L377.73 113.79 L378.07 114.12 L378.41 114.45 L378.75 114.78 L379.10 115.11 L379.45 115.43 L379.80 115.75 L380.15 116.06 L380.51 116.37 L380.86 116.67 L381.22 116.97 L381.59 117.26 L381.95 117.55 L382.32 117.83 L382.69 118.11 L383.06 118.39 L383.44 118.65 L383.82 118.92 L384.20 119.17 L384.58 119.42 L384.97 119.67 L385.35 119.91 L385.75 120.14 L386.14 120.37 L386.54 120.59 L386.94 120.81 L387.34 121.02 L387.74 121.22 L388.15 121.41 L388.56 121.60 L388.97 121.78 L389.39 121.95 L389.81 122.12 L390.23 122.28 L390.65 122.43 L391.08 122.58 L391.51 122.72 L391.94 122.85 L392.38 122.97 L392.82 123.08 L393.26 123.19 L393.71 123.28 L394.15 123.37 L394.60 123.45 L395.06 123.52 L395.52 123.59 L395.98 123.64 L396.44 123.69 L396.91 123.73 L397.38 123.75 L397.85 123.77 L398.32 123.78 L398.80 123.79 L399.28 123.78 L399.76 123.78 L400.24 123.76 L400.73 123.75 L401.21 123.73 L401.70 123.70 L402.18 123.68 L402.67 123.66 L403.15 123.63 L403.64 123.61 L404.12 123.58 L404.60 123.56 L405.08 123.55 L405.56 123.54 L406.04 123.53 L406.51 123.52 L406.98 123.53 L407.45 123.54 L407.91 123.56 L408.37 123.59 L408.83 123.62 L409.28 123.67 L409.73 123.71 L410.18 123.77 L410.63 123.83 L411.08 123.89 L411.53 123.95 L411.97 124.02 L412.42 124.09 L412.87 124.16 L413.32 124.23 L413.77 124.30 L414.23 124.37 L414.68 124.43 L415.14 124.50 L415.60 124.57 L416.05 124.64 L416.51 124.70 L416.98 124.77 L417.44 124.84 L417.90 124.90 L418.37 124.97 L418.83 125.03 L419.30 125.09 L419.77 125.15 L420.23 125.22 L420.70 125.28 L421.17 125.34 L421.64 125.39 L422.11 125.45 L422.59 125.51 L423.06 125.56 L423.53 125.62 L424.00 125.67 L424.48 125.72 L424.95 125.77 L425.43 125.82 L425.90 125.87 L426.37 125.92 L426.85 125.96 L427.32 126.01 L427.80 126.05 L428.27 126.09 L428.75 126.13 L429.22 126.17 L429.70 126.20 L430.17 126.24 L430.65 126.27 L431.12 126.30 L431.59 126.33 L432.07 126.36 L432.54 126.39 L433.01 126.41 L433.49 126.44 L433.96 126.46 L434.43 126.48 L434.91 126.50 L435.38 126.52 L435.85 126.53 L436.32 126.55 L436.79 126.56 L437.27 126.58 L437.74 126.59 L438.21 126.60 L438.68 126.61 L439.15 126.62 L439.63 126.63 L440.10 126.64 L440.57 126.65 L441.04 126.65 L441.51 126.66 L441.98 126.66 L442.45 126.67 L442.92 126.67 L443.40 126.67 L443.87 126.68 L444.34 126.68 L444.81 126.68 L445.28 126.68 L445.75 126.68 L446.22 126.68 L446.69 126.68 L447.16 126.68 L447.63 126.68 L448.11 126.68 L448.58 126.68 L449.05 126.67 L449.52 126.67 L449.99 126.67 L450.46 126.67 L450.93 126.67 L451.40 126.67 L451.88 126.67 L452.35 126.66 L452.82 126.66 L453.29 126.66 L453.76 126.66 L454.23 126.66 L454.70 126.66 L455.18 126.66 L455.65 126.66 L456.12 126.66 L456.59 126.66 L457.06 126.67 L457.54 126.67 L458.01 126.67 L458.48 126.68 L458.96 126.68 L459.43 126.69 L459.90 126.69 L460.37 126.70 L460.85 126.71 L461.32 126.71 L461.80 126.72 L462.27 126.73 L462.74 126.74 L463.22 126.76 L463.69 126.77 L464.17 126.78 L464.64 126.80 L465.12 126.82 L465.59 126.83 L466.07 126.85 L466.54 126.87 L467.02 126.89" fill="none" stroke="#ab2d97" stroke-width="2" stroke-linejoin="round" stroke-linecap="round"/>
<path d="M252.49 126.59 L252.94 126.59 L253.38 126.59 L253.82 126.59 L254.26 126.59 L254.71 126.59 L255.15 126.59 L255.59 126.58 L256.03 126.58 L256.48 126.58 L256.92 126.58 L257.36 126.58 L257.80 126.58 L258.25 126.58 L258.69 126.57 L259.13 126.57 L259.57 126.57 L260.01 126.57 L260.46 126.57 L260.90 126.57 L261.34 126.56 L261.78 126.56 L262.23 126.56 L262.67 126.56 L263.11 126.56 L263.55 126.56 L263.99 126.55 L264.44 126.55 L264.88 126.55 L265.32 126.55 L265.76 126.55 L266.21 126.55 L266.65 126.54 L267.09 126.54 L267.53 126.54 L267.97 126.54 L268.42 126.54 L268.86 126.54 L269.30 126.53 L269.74 126.53 L270.18 126.53 L270.63 126.53 L271.07 126.53 L271.51 126.52 L271.95 126.52 L272.39 126.52 L272.84 126.52 L273.28 126.52 L273.72 126.52 L274.16 126.51 L274.60 126.51 L275.04 126.51 L275.49 126.51 L275.93 126.51 L276.37 126.50 L276.81 126.50 L277.25 126.50 L277.70 126.50 L278.14 126.50 L278.58 126.49 L279.02 126.49 L279.46 126.49 L279.91 126.49 L280.35 126.49 L280.79 126.48 L281.23 126.48 L281.67 126.48 L282.11 126.48 L282.56 126.48 L283.00 126.47 L283.44 126.47 L283.88 126.47 L284.32 126.47 L284.77 126.47 L285.21 126.46 L285.65 126.46 L286.09 126.46 L286.53 126.46 L286.98 126.46 L287.42 126.45 L287.86 126.45 L288.30 126.45 L288.74 126.45 L289.18 126.44 L289.63 126.44 L290.07 126.44 L290.51 126.44 L290.95 126.44 L291.39 126.43 L291.84 126.43 L292.28 126.43 L292.72 126.43 L293.16 126.42 L293.60 126.42 L294.04 126.42 L294.49 126.42 L294.93 126.42 L295.37 126.41 L295.81 126.41 L296.25 126.41 L296.70 126.41 L297.14 126.40 L297.58 126.40 L298.02 126.40 L298.46 126.40 L298.90 126.39 L299.35 126.39 L299.79 126.39 L300.23 126.39 L300.67 126.38 L301.11 126.38 L301.56 126.38 L302.00 126.38 L302.44 126.38 L302.88 126.37 L303.32 126.37 L303.77 126.37 L304.21 126.37 L304.65 126.36 L305.09 126.36 L305.53 126.36 L305.98 126.36 L306.42 126.35 L306.86 126.35 L307.30 126.35 L307.74 126.35 L308.19 126.34 L308.63 126.34 L309.07 126.34 L309.51 126.34 L309.95 126.33 L310.40 126.33 L310.84 126.33 L311.28 126.32 L311.72 126.32 L312.16 126.32 L312.61 126.32 L313.05 126.31 L313.49 126.31 L313.93 126.31 L314.38 126.31 L314.82 126.30 L315.26 126.30 L315.70 126.30 L316.14 126.30 L316.59 126.29 L317.03 126.29 L317.47 126.29 L317.91 126.29 L318.36 126.28 L318.80 126.28 L319.24 126.28 L319.68 126.27 L320.13 126.27 L320.57 126.27 L321.01 126.27 L321.45 126.26 L321.90 126.26 L322.34 126.26 L322.78 126.25 L323.22 126.25 L323.66 126.25 L324.11 126.25 L324.55 126.24 L324.99 126.24 L325.44 126.24 L325.88 126.24 L326.32 126.23 L326.76 126.23 L327.21 126.23 L327.65 126.22 L328.09 126.22 L328.53 126.22 L328.98 126.21 L329.42 126.21 L329.86 126.21 L330.30 126.21 L330.75 126.20 L331.19 126.20 L331.63 126.20 L332.07 126.19 L332.51 126.19 L332.96 126.19 L333.40 126.18 L333.84 126.18 L334.28 126.18 L334.72 126.17 L335.17 126.17 L335.61 126.16 L336.05 126.16 L336.49 126.16 L336.93 126.15 L337.37 126.15 L337.81 126.14 L338.26 126.14 L338.70 126.14 L339.14 126.13 L339.58 126.13 L340.02 126.12 L340.46 126.12 L340.90 126.11 L341.34 126.11 L341.78 126.10 L342.22 126.10 L342.66 126.09 L343.10 126.08 L343.53 126.08 L343.97 126.07 L344.41 126.05 L344.85 126.04 L345.28 126.02 L345.72 126.00 L346.16 125.97 L346.59 125.93 L347.03 125.89 L347.46 125.85 L347.89 125.79 L348.32 125.73 L348.75 125.66 L349.18 125.58 L349.61 125.49 L350.04 125.39 L350.47 125.28 L350.89 125.16 L351.31 125.03 L351.74 124.88 L352.16 124.73 L352.57 124.57 L352.99 124.40 L353.40 124.22 L353.81 124.03 L354.21 123.83 L354.62 123.62 L355.01 123.41 L355.41 123.19 L355.80 122.96 L356.18 122.73 L356.57 122.49 L356.94 122.24 L357.31 121.99 L357.68 121.73 L358.04 121.47 L358.39 121.21 L358.74 120.93 L359.09 120.66 L359.43 120.38 L359.76 120.09 L360.09 119.80 L360.41 119.51 L360.73 119.21 L361.04 118.91 L361.35 118.60 L361.65 118.29 L361.95 117.97 L362.25 117.66 L362.54 117.33 L362.82 117.01 L363.10 116.68 L363.38 116.34 L363.65 116.01 L363.92 115.66 L364.18 115.32 L364.44 114.97 L364.69 114.62 L364.94 114.27 L365.19 113.91 L365.43 113.55 L365.67 113.19 L365.91 112.82 L366.14 112.45 L366.37 112.08 L366.59 111.71 L366.81 111.33 L367.03 110.95 L367.25 110.57 L367.46 110.19 L367.67 109.80 L367.87 109.41 L368.07 109.02 L368.27 108.63 L368.47 108.23 L368.66 107.84 L368.85 107.44 L369.04 107.04 L369.23 106.64 L369.41 106.23 L369.59 105.83 L369.77 105.42 L369.94 105.01 L370.12 104.60 L370.29 104.19 L370.46 103.78 L370.63 103.37 L370.79 102.96 L370.95 102.54 L371.12 102.13 L371.28 101.71 L371.43 101.29 L371.59 100.87 L371.74 100.46 L371.90 100.04 L372.05 99.62 L372.20 99.20 L372.35 98.78 L372.50 98.36 L372.64 97.94 L372.79 97.52 L372.94 97.10 L373.08 96.68 L373.22 96.26 L373.36 95.84 L373.51 95.42 L373.65 95.00 L373.79 94.58 L373.93 94.16 L374.07 93.74 L374.21 93.33 L374.34 92.91 L374.48 92.49 L374.63 92.08 L374.77 91.66 L374.91 91.25 L375.06 90.84 L375.21 90.43 L375.36 90.02 L375.51 89.61 L375.67 89.20 L375.84 88.79 L376.00 88.38 L376.17 87.98 L376.35 87.57 L376.53 87.17 L376.72 86.77 L376.92 86.36 L377.12 85.96 L377.33 85.56 L377.54 85.17 L377.77 84.77 L378.00 84.37 L378.24 83.98 L378.49 83.59 L378.75 83.20 L379.02 82.81 L379.30 82.42 L379.58 82.04 L379.88 81.67 L380.18 81.31 L380.49 80.97 L380.80 80.64 L381.12 80.33 L381.44 80.04 L381.77 79.77 L382.10 79.54 L382.43 79.33 L382.76 79.15 L383.09 79.01 L383.43 78.91 L383.76 78.85 L384.09 78.82 L384.42 78.85 L384.75 78.92 L385.07 79.02 L385.39 79.17 L385.70 79.35 L386.01 79.57 L386.31 79.81 L386.60 80.08 L386.89 80.38 L387.17 80.70 L387.44 81.03 L387.70 81.38 L387.95 81.75 L388.20 82.12 L388.43 82.51 L388.65 82.91 L388.87 83.31 L389.07 83.72 L389.28 84.14 L389.47 84.57 L389.66 84.99 L389.84 85.43 L390.02 85.86 L390.19 86.30 L390.36 86.74 L390.53 87.18 L390.70 87.61 L390.86 88.05 L391.02 88.48 L391.18 88.91 L391.34 89.34 L391.49 89.76 L391.65 90.19 L391.80 90.61 L391.95 91.03 L392.11 91.45 L392.26 91.86 L392.41 92.28 L392.56 92.69 L392.71 93.10 L392.86 93.51 L393.01 93.92 L393.16 94.33 L393.31 94.74 L393.46 95.14 L393.61 95.55 L393.76 95.95 L393.92 96.36 L394.07 96.76 L394.23 97.16 L394.38 97.56 L394.54 97.96 L394.70 98.36 L394.86 98.76 L395.03 99.16 L395.19 99.56 L395.36 99.96 L395.53 100.36 L395.71 100.76 L395.88 101.16 L396.06 101.56 L396.24 101.96 L396.43 102.36 L396.61 102.77 L396.80 103.17 L397.00 103.57 L397.20 103.97 L397.40 104.37 L397.60 104.76 L397.81 105.16 L398.03 105.55 L398.24 105.95 L398.46 106.33 L398.69 106.72 L398.92 107.11 L399.15 107.49 L399.39 107.86 L399.64 108.23 L399.89 108.60 L400.14 108.97 L400.40 109.32 L400.66 109.68 L400.93 110.03 L401.21 110.37 L401.49 110.70 L401.77 111.03 L402.06 111.36 L402.36 111.67 L402.67 111.98 L402.98 112.28 L403.29 112.57 L403.61 112.86 L403.94 113.13 L404.28 113.40 L404.62 113.66 L404.96 113.91 L405.32 114.15 L405.68 114.38 L406.04 114.61 L406.42 114.83 L406.79 115.04 L407.17 115.24 L407.56 115.43 L407.95 115.62 L408.35 115.81 L408.74 115.99 L409.15 116.16 L409.55 116.33 L409.96 116.49 L410.38 116.65 L410.79 116.80 L411.21 116.95 L411.63 117.10 L412.06 117.25 L412.48 117.39 L412.91 117.53 L413.34 117.66 L413.77 117.80 L414.20 117.93 L414.63 118.06 L415.06 118.20 L415.49 118.33 L415.93 118.46 L416.36 118.59 L416.79 118.72 L417.22 118.85 L417.65 118.99 L418.08 119.12 L418.51 119.26 L418.94 119.39 L419.36 119.54 L419.78 119.68 L420.21 119.82 L420.63 119.97 L421.04 120.12 L421.46 120.27 L421.88 120.42 L422.29 120.57 L422.71 120.72 L423.12 120.87 L423.53 121.02 L423.94 121.17 L424.36 121.33 L424.77 121.48 L425.18 121.63 L425.59 121.78 L426.00 121.93 L426.41 122.08 L426.82 122.23 L427.23 122.37 L427.63 122.51 L428.04 122.66 L428.46 122.79 L428.87 122.93 L429.28 123.07 L429.69 123.20 L430.10 123.32 L430.52 123.45 L430.93 123.57 L431.35 123.69 L431.76 123.80 L432.18 123.91 L432.60 124.02 L433.02 124.12 L433.44 124.22 L433.87 124.31 L434.29 124.39 L434.72 124.48 L435.15 124.56 L435.58 124.63 L436.01 124.70 L436.44 124.77 L436.87 124.83 L437.30 124.89 L437.74 124.95 L438.18 125.00 L438.61 125.05 L439.05 125.09 L439.49 125.13 L439.93 125.17 L440.37 125.21 L440.81 125.24 L441.25 125.27 L441.70 125.30 L442.14 125.33 L442.59 125.35 L443.03 125.37 L443.48 125.39 L443.92 125.41 L444.37 125.42 L444.82 125.43 L445.26 125.44 L445.71 125.45 L446.16 125.46 L446.61 125.47 L447.06 125.47 L447.51 125.47 L447.96 125.48 L448.41 125.48 L448.86 125.48 L449.31 125.48 L449.76 125.48 L450.21 125.47 L450.66 125.47 L451.11 125.47 L451.55 125.47 L452.00 125.46 L452.45 125.46 L452.90 125.46 L453.35 125.45 L453.80 125.45 L454.25 125.45 L454.69 125.45 L455.14 125.45 L455.59 125.44 L456.03 125.44 L456.48 125.45 L456.92 125.45 L457.37 125.45 L457.81 125.46 L458.25 125.46 L458.70 125.47 L459.14 125.48 L459.58 125.49 L460.02 125.50 L460.45 125.51 L460.89 125.53 L461.33 125.55 L461.76 125.57 L462.20 125.59 L462.63 125.62 L463.06 125.64 L463.49 125.67 L463.92 125.71 L464.35 125.74 L464.78 125.78 L465.20 125.82 L465.63 125.87 L466.05 125.92 L466.47 125.97 L466.89 126.02" fill="none" stroke="#3b80c4" stroke-width="2" stroke-linejoin="round" stroke-linecap="round"/>
<text x="490.70" y="16.10" font-size="15.2" font-weight="bold" text-anchor="start" fill="#222" stroke="#222" stroke-width="0.22" >C</text>
<text x="558.00" y="22.00" font-size="8.4" font-weight="bold" text-anchor="start" fill="#222" stroke="#222" stroke-width="0.22" >PolyE<tspan font-size="5" dy="2">4</tspan><tspan dy="-2">Y 5-20 kDa</tspan></text>
<line x1="495.70" y1="25.50" x2="495.70" y2="136.20" stroke="#3a3a3a" stroke-width="1.05" />
<line x1="495.70" y1="136.20" x2="697.00" y2="136.20" stroke="#3a3a3a" stroke-width="1.1" />
<line x1="494.00" y1="46.80" x2="497.20" y2="46.80" stroke="#2a2a2a" stroke-width="1.2" />
<line x1="494.00" y1="91.80" x2="497.20" y2="91.80" stroke="#2a2a2a" stroke-width="1.2" />
<line x1="494.00" y1="136.20" x2="497.20" y2="136.20" stroke="#2a2a2a" stroke-width="1.2" />
<line x1="495.40" y1="130.40" x2="495.40" y2="136.20" stroke="#2a2a2a" stroke-width="0.95" />
<line x1="498.49" y1="130.40" x2="498.49" y2="136.20" stroke="#2a2a2a" stroke-width="0.95" />
<line x1="501.58" y1="130.40" x2="501.58" y2="136.20" stroke="#2a2a2a" stroke-width="0.95" />
<line x1="504.67" y1="130.40" x2="504.67" y2="136.20" stroke="#2a2a2a" stroke-width="0.95" />
<line x1="507.76" y1="130.40" x2="507.76" y2="136.20" stroke="#2a2a2a" stroke-width="0.95" />
<line x1="510.85" y1="130.40" x2="510.85" y2="136.20" stroke="#2a2a2a" stroke-width="0.95" />
<line x1="513.94" y1="130.40" x2="513.94" y2="136.20" stroke="#2a2a2a" stroke-width="0.95" />
<line x1="517.03" y1="130.40" x2="517.03" y2="136.20" stroke="#2a2a2a" stroke-width="0.95" />
<line x1="520.12" y1="130.40" x2="520.12" y2="136.20" stroke="#2a2a2a" stroke-width="0.95" />
<line x1="523.21" y1="130.40" x2="523.21" y2="136.20" stroke="#2a2a2a" stroke-width="0.95" />
<line x1="526.30" y1="130.40" x2="526.30" y2="136.20" stroke="#2a2a2a" stroke-width="0.95" />
<line x1="529.39" y1="130.40" x2="529.39" y2="136.20" stroke="#2a2a2a" stroke-width="0.95" />
<line x1="532.48" y1="130.40" x2="532.48" y2="136.20" stroke="#2a2a2a" stroke-width="0.95" />
<line x1="535.57" y1="130.40" x2="535.57" y2="136.20" stroke="#2a2a2a" stroke-width="0.95" />
<line x1="538.66" y1="130.40" x2="538.66" y2="136.20" stroke="#2a2a2a" stroke-width="0.95" />
<line x1="541.75" y1="130.40" x2="541.75" y2="136.20" stroke="#2a2a2a" stroke-width="0.95" />
<line x1="544.84" y1="130.40" x2="544.84" y2="136.20" stroke="#2a2a2a" stroke-width="0.95" />
<line x1="547.93" y1="130.40" x2="547.93" y2="136.20" stroke="#2a2a2a" stroke-width="0.95" />
<line x1="551.02" y1="130.40" x2="551.02" y2="136.20" stroke="#2a2a2a" stroke-width="0.95" />
<line x1="554.11" y1="130.40" x2="554.11" y2="136.20" stroke="#2a2a2a" stroke-width="0.95" />
<line x1="557.20" y1="130.40" x2="557.20" y2="136.20" stroke="#2a2a2a" stroke-width="0.95" />
<line x1="560.29" y1="130.40" x2="560.29" y2="136.20" stroke="#2a2a2a" stroke-width="0.95" />
<line x1="563.38" y1="130.40" x2="563.38" y2="136.20" stroke="#2a2a2a" stroke-width="0.95" />
<line x1="566.47" y1="130.40" x2="566.47" y2="136.20" stroke="#2a2a2a" stroke-width="0.95" />
<line x1="569.56" y1="130.40" x2="569.56" y2="136.20" stroke="#2a2a2a" stroke-width="0.95" />
<line x1="572.65" y1="130.40" x2="572.65" y2="136.20" stroke="#2a2a2a" stroke-width="0.95" />
<line x1="575.74" y1="130.40" x2="575.74" y2="136.20" stroke="#2a2a2a" stroke-width="0.95" />
<line x1="578.83" y1="130.40" x2="578.83" y2="136.20" stroke="#2a2a2a" stroke-width="0.95" />
<line x1="581.92" y1="130.40" x2="581.92" y2="136.20" stroke="#2a2a2a" stroke-width="0.95" />
<line x1="585.01" y1="130.40" x2="585.01" y2="136.20" stroke="#2a2a2a" stroke-width="0.95" />
<line x1="588.10" y1="130.40" x2="588.10" y2="136.20" stroke="#2a2a2a" stroke-width="0.95" />
<line x1="591.19" y1="130.40" x2="591.19" y2="136.20" stroke="#2a2a2a" stroke-width="0.95" />
<line x1="594.28" y1="130.40" x2="594.28" y2="136.20" stroke="#2a2a2a" stroke-width="0.95" />
<line x1="597.37" y1="130.40" x2="597.37" y2="136.20" stroke="#2a2a2a" stroke-width="0.95" />
<line x1="600.46" y1="130.40" x2="600.46" y2="136.20" stroke="#2a2a2a" stroke-width="0.95" />
<line x1="603.55" y1="130.40" x2="603.55" y2="136.20" stroke="#2a2a2a" stroke-width="0.95" />
<line x1="606.64" y1="130.40" x2="606.64" y2="136.20" stroke="#2a2a2a" stroke-width="0.95" />
<line x1="609.73" y1="130.40" x2="609.73" y2="136.20" stroke="#2a2a2a" stroke-width="0.95" />
<line x1="612.82" y1="130.40" x2="612.82" y2="136.20" stroke="#2a2a2a" stroke-width="0.95" />
<line x1="615.91" y1="130.40" x2="615.91" y2="136.20" stroke="#2a2a2a" stroke-width="0.95" />
<line x1="619.00" y1="130.40" x2="619.00" y2="136.20" stroke="#2a2a2a" stroke-width="0.95" />
<line x1="622.09" y1="130.40" x2="622.09" y2="136.20" stroke="#2a2a2a" stroke-width="0.95" />
<line x1="625.18" y1="130.40" x2="625.18" y2="136.20" stroke="#2a2a2a" stroke-width="0.95" />
<line x1="628.27" y1="130.40" x2="628.27" y2="136.20" stroke="#2a2a2a" stroke-width="0.95" />
<line x1="631.36" y1="130.40" x2="631.36" y2="136.20" stroke="#2a2a2a" stroke-width="0.95" />
<line x1="634.45" y1="130.40" x2="634.45" y2="136.20" stroke="#2a2a2a" stroke-width="0.95" />
<line x1="637.54" y1="130.40" x2="637.54" y2="136.20" stroke="#2a2a2a" stroke-width="0.95" />
<line x1="640.63" y1="130.40" x2="640.63" y2="136.20" stroke="#2a2a2a" stroke-width="0.95" />
<line x1="643.72" y1="130.40" x2="643.72" y2="136.20" stroke="#2a2a2a" stroke-width="0.95" />
<line x1="646.81" y1="130.40" x2="646.81" y2="136.20" stroke="#2a2a2a" stroke-width="0.95" />
<line x1="649.90" y1="130.40" x2="649.90" y2="136.20" stroke="#2a2a2a" stroke-width="0.95" />
<line x1="652.99" y1="130.40" x2="652.99" y2="136.20" stroke="#2a2a2a" stroke-width="0.95" />
<line x1="656.08" y1="130.40" x2="656.08" y2="136.20" stroke="#2a2a2a" stroke-width="0.95" />
<line x1="659.17" y1="130.40" x2="659.17" y2="136.20" stroke="#2a2a2a" stroke-width="0.95" />
<line x1="662.26" y1="130.40" x2="662.26" y2="136.20" stroke="#2a2a2a" stroke-width="0.95" />
<line x1="665.35" y1="130.40" x2="665.35" y2="136.20" stroke="#2a2a2a" stroke-width="0.95" />
<line x1="668.44" y1="130.40" x2="668.44" y2="136.20" stroke="#2a2a2a" stroke-width="0.95" />
<line x1="671.53" y1="130.40" x2="671.53" y2="136.20" stroke="#2a2a2a" stroke-width="0.95" />
<line x1="674.62" y1="130.40" x2="674.62" y2="136.20" stroke="#2a2a2a" stroke-width="0.95" />
<line x1="677.71" y1="130.40" x2="677.71" y2="136.20" stroke="#2a2a2a" stroke-width="0.95" />
<line x1="680.80" y1="130.40" x2="680.80" y2="136.20" stroke="#2a2a2a" stroke-width="0.95" />
<line x1="683.89" y1="130.40" x2="683.89" y2="136.20" stroke="#2a2a2a" stroke-width="0.95" />
<line x1="686.98" y1="130.40" x2="686.98" y2="136.20" stroke="#2a2a2a" stroke-width="0.95" />
<line x1="690.07" y1="130.40" x2="690.07" y2="136.20" stroke="#2a2a2a" stroke-width="0.95" />
<line x1="693.16" y1="130.40" x2="693.16" y2="136.20" stroke="#2a2a2a" stroke-width="0.95" />
<line x1="696.25" y1="130.40" x2="696.25" y2="136.20" stroke="#2a2a2a" stroke-width="0.95" />
<text x="494.40" y="29.60" font-size="4.5" font-weight="bold" text-anchor="end" fill="#222" stroke="#222" stroke-width="0.22" textLength="10.60" lengthAdjust="spacingAndGlyphs" >mAU</text>
<text x="491.50" y="48.80" font-size="5.5" font-weight="bold" text-anchor="end" fill="#222" stroke="#222" stroke-width="0.22" >70</text>
<text x="491.50" y="93.80" font-size="5.5" font-weight="bold" text-anchor="end" fill="#222" stroke="#222" stroke-width="0.22" >30</text>
<text x="492.00" y="138.20" font-size="5.5" font-weight="bold" text-anchor="end" fill="#222" stroke="#222" stroke-width="0.22" >-10</text>
<text x="495.40" y="144.40" font-size="5.5" font-weight="bold" text-anchor="middle" fill="#222" stroke="#222" stroke-width="0.22" >50</text>
<text x="557.20" y="144.40" font-size="5.5" font-weight="bold" text-anchor="middle" fill="#222" stroke="#222" stroke-width="0.22" >70</text>
<text x="619.00" y="144.40" font-size="5.5" font-weight="bold" text-anchor="middle" fill="#222" stroke="#222" stroke-width="0.22" >90</text>
<text x="680.80" y="144.40" font-size="5.5" font-weight="bold" text-anchor="middle" fill="#222" stroke="#222" stroke-width="0.22" >110</text>
<text x="593.40" y="155.00" font-size="7.3" font-weight="bold" text-anchor="middle" fill="#222" stroke="#222" stroke-width="0.22" textLength="66.20" lengthAdjust="spacingAndGlyphs" >Elution Volume (mL)</text>
<line x1="535.40" y1="119.40" x2="535.40" y2="136" stroke="#86b960" stroke-width="1.0" stroke-dasharray="1.7 2.0"/>
<line x1="569.80" y1="63.00" x2="569.80" y2="136" stroke="#86b960" stroke-width="1.0" stroke-dasharray="1.7 2.0"/>
<line x1="593.30" y1="37.00" x2="593.30" y2="136" stroke="#86b960" stroke-width="1.0" stroke-dasharray="1.7 2.0"/>
<line x1="621.50" y1="81.50" x2="621.50" y2="136" stroke="#86b960" stroke-width="1.0" stroke-dasharray="1.7 2.0"/>
<line x1="651.40" y1="120.50" x2="651.40" y2="136" stroke="#86b960" stroke-width="1.0" stroke-dasharray="1.7 2.0"/>
<text x="556.00" y="117.80" font-size="8.4" font-weight="normal" text-anchor="middle" fill="#111" stroke="#111" stroke-width="0.3" >f1</text>
<text x="580.70" y="117.80" font-size="8.4" font-weight="normal" text-anchor="middle" fill="#111" stroke="#111" stroke-width="0.3" >f2</text>
<text x="606.60" y="117.80" font-size="8.4" font-weight="normal" text-anchor="middle" fill="#111" stroke="#111" stroke-width="0.3" >f3</text>
<text x="632.80" y="117.80" font-size="8.4" font-weight="normal" text-anchor="middle" fill="#111" stroke="#111" stroke-width="0.3" >f4</text>
<path d="M495.61 125.09 L496.07 125.13 L496.54 125.16 L497.00 125.20 L497.47 125.23 L497.94 125.26 L498.42 125.29 L498.89 125.31 L499.37 125.34 L499.85 125.36 L500.33 125.38 L500.81 125.39 L501.29 125.41 L501.77 125.42 L502.26 125.43 L502.75 125.44 L503.23 125.44 L503.72 125.44 L504.21 125.44 L504.70 125.44 L505.19 125.43 L505.68 125.42 L506.17 125.41 L506.66 125.39 L507.16 125.38 L507.65 125.35 L508.14 125.33 L508.64 125.30 L509.13 125.27 L509.62 125.24 L510.12 125.20 L510.61 125.16 L511.11 125.12 L511.60 125.07 L512.09 125.02 L512.58 124.97 L513.08 124.91 L513.57 124.85 L514.06 124.78 L514.55 124.72 L515.04 124.64 L515.53 124.57 L516.02 124.49 L516.50 124.40 L516.99 124.32 L517.47 124.23 L517.96 124.13 L518.44 124.03 L518.92 123.93 L519.40 123.82 L519.88 123.71 L520.36 123.59 L520.83 123.47 L521.30 123.35 L521.78 123.22 L522.25 123.08 L522.71 122.94 L523.18 122.80 L523.64 122.65 L524.10 122.50 L524.56 122.35 L525.02 122.18 L525.48 122.02 L525.93 121.85 L526.38 121.67 L526.82 121.49 L527.27 121.30 L527.71 121.11 L528.15 120.92 L528.58 120.72 L529.02 120.51 L529.45 120.30 L529.87 120.08 L530.30 119.86 L530.72 119.63 L531.13 119.40 L531.55 119.16 L531.96 118.92 L532.37 118.67 L532.77 118.42 L533.18 118.17 L533.57 117.90 L533.97 117.64 L534.36 117.37 L534.75 117.09 L535.14 116.81 L535.53 116.53 L535.91 116.24 L536.29 115.95 L536.66 115.65 L537.04 115.35 L537.41 115.04 L537.77 114.73 L538.14 114.42 L538.50 114.11 L538.86 113.78 L539.22 113.46 L539.57 113.13 L539.93 112.80 L540.27 112.47 L540.62 112.13 L540.97 111.79 L541.31 111.44 L541.65 111.09 L541.98 110.74 L542.32 110.39 L542.65 110.03 L542.98 109.67 L543.31 109.31 L543.63 108.94 L543.95 108.57 L544.28 108.20 L544.59 107.82 L544.91 107.45 L545.22 107.07 L545.53 106.69 L545.84 106.30 L546.15 105.92 L546.46 105.53 L546.76 105.14 L547.06 104.74 L547.36 104.35 L547.65 103.95 L547.95 103.55 L548.24 103.15 L548.53 102.75 L548.82 102.35 L549.11 101.94 L549.39 101.53 L549.68 101.12 L549.96 100.71 L550.24 100.30 L550.51 99.89 L550.79 99.48 L551.06 99.06 L551.34 98.65 L551.61 98.23 L551.87 97.81 L552.14 97.39 L552.41 96.97 L552.67 96.55 L552.93 96.13 L553.19 95.71 L553.45 95.29 L553.71 94.86 L553.97 94.44 L554.22 94.02 L554.47 93.59 L554.73 93.17 L554.98 92.75 L555.22 92.32 L555.47 91.90 L555.72 91.48 L555.96 91.05 L556.21 90.63 L556.45 90.20 L556.69 89.78 L556.93 89.36 L557.17 88.93 L557.40 88.51 L557.64 88.08 L557.87 87.66 L558.11 87.23 L558.34 86.81 L558.57 86.38 L558.80 85.96 L559.03 85.54 L559.26 85.11 L559.49 84.68 L559.71 84.26 L559.94 83.83 L560.16 83.41 L560.38 82.98 L560.61 82.56 L560.83 82.13 L561.05 81.70 L561.27 81.28 L561.49 80.85 L561.70 80.42 L561.92 79.99 L562.14 79.56 L562.35 79.14 L562.57 78.71 L562.78 78.28 L563.00 77.85 L563.21 77.42 L563.42 76.99 L563.63 76.56 L563.85 76.13 L564.06 75.70 L564.27 75.27 L564.48 74.83 L564.68 74.40 L564.89 73.97 L565.10 73.54 L565.31 73.10 L565.52 72.67 L565.72 72.23 L565.93 71.80 L566.13 71.36 L566.34 70.93 L566.54 70.49 L566.75 70.05 L566.95 69.61 L567.16 69.18 L567.36 68.74 L567.57 68.30 L567.77 67.86 L567.97 67.42 L568.18 66.98 L568.38 66.54 L568.58 66.09 L568.79 65.65 L568.99 65.21 L569.19 64.76 L569.40 64.32 L569.60 63.87 L569.80 63.43 L570.00 62.98 L570.21 62.53 L570.41 62.08 L570.61 61.63 L570.82 61.18 L571.02 60.73 L571.22 60.28 L571.43 59.83 L571.63 59.38 L571.84 58.93 L572.04 58.47 L572.25 58.02 L572.46 57.57 L572.67 57.12 L572.88 56.67 L573.09 56.21 L573.31 55.76 L573.52 55.31 L573.74 54.87 L573.96 54.42 L574.19 53.97 L574.41 53.53 L574.64 53.09 L574.88 52.65 L575.11 52.21 L575.35 51.77 L575.59 51.34 L575.84 50.90 L576.09 50.47 L576.34 50.05 L576.60 49.62 L576.86 49.20 L577.13 48.79 L577.40 48.37 L577.68 47.96 L577.96 47.55 L578.25 47.15 L578.54 46.75 L578.84 46.35 L579.14 45.96 L579.45 45.58 L579.77 45.19 L580.09 44.82 L580.42 44.44 L580.75 44.07 L581.10 43.71 L581.44 43.35 L581.80 43.00 L582.16 42.66 L582.53 42.32 L582.90 41.98 L583.28 41.66 L583.66 41.34 L584.05 41.03 L584.45 40.73 L584.84 40.44 L585.25 40.15 L585.65 39.88 L586.06 39.61 L586.47 39.36 L586.89 39.12 L587.31 38.88 L587.73 38.66 L588.15 38.45 L588.58 38.26 L589.00 38.07 L589.43 37.90 L589.86 37.75 L590.29 37.60 L590.72 37.47 L591.15 37.36 L591.58 37.26 L592.01 37.17 L592.43 37.10 L592.86 37.05 L593.29 37.01 L593.71 36.99 L594.14 36.99 L594.56 37.00 L594.98 37.03 L595.39 37.09 L595.81 37.16 L596.22 37.24 L596.63 37.35 L597.03 37.47 L597.43 37.61 L597.83 37.77 L598.23 37.94 L598.62 38.13 L599.01 38.33 L599.39 38.55 L599.77 38.78 L600.15 39.03 L600.53 39.29 L600.90 39.56 L601.27 39.84 L601.64 40.14 L602.00 40.45 L602.35 40.77 L602.71 41.10 L603.06 41.44 L603.41 41.78 L603.75 42.14 L604.09 42.51 L604.42 42.89 L604.75 43.27 L605.08 43.66 L605.40 44.06 L605.72 44.46 L606.04 44.88 L606.35 45.29 L606.65 45.71 L606.96 46.14 L607.25 46.57 L607.55 47.00 L607.84 47.44 L608.12 47.88 L608.40 48.33 L608.68 48.77 L608.95 49.22 L609.21 49.67 L609.47 50.12 L609.73 50.57 L609.98 51.01 L610.23 51.46 L610.47 51.91 L610.71 52.36 L610.95 52.80 L611.18 53.25 L611.40 53.70 L611.62 54.14 L611.84 54.59 L612.05 55.03 L612.26 55.47 L612.47 55.92 L612.67 56.36 L612.88 56.80 L613.07 57.25 L613.27 57.69 L613.46 58.13 L613.65 58.58 L613.84 59.02 L614.02 59.46 L614.20 59.91 L614.38 60.35 L614.56 60.79 L614.74 61.23 L614.92 61.68 L615.09 62.12 L615.26 62.57 L615.43 63.01 L615.60 63.45 L615.77 63.90 L615.94 64.34 L616.11 64.79 L616.28 65.23 L616.45 65.68 L616.61 66.13 L616.78 66.57 L616.95 67.02 L617.12 67.47 L617.28 67.92 L617.45 68.37 L617.62 68.82 L617.79 69.27 L617.96 69.72 L618.13 70.17 L618.30 70.62 L618.47 71.08 L618.64 71.53 L618.82 71.98 L618.99 72.44 L619.16 72.89 L619.34 73.34 L619.51 73.80 L619.69 74.25 L619.87 74.71 L620.04 75.16 L620.22 75.62 L620.40 76.07 L620.58 76.53 L620.77 76.98 L620.95 77.43 L621.13 77.89 L621.32 78.34 L621.50 78.80 L621.69 79.25 L621.88 79.70 L622.07 80.16 L622.26 80.61 L622.45 81.06 L622.64 81.52 L622.84 81.97 L623.03 82.42 L623.23 82.87 L623.43 83.32 L623.63 83.77 L623.83 84.22 L624.03 84.67 L624.24 85.12 L624.44 85.56 L624.65 86.01 L624.86 86.46 L625.07 86.90 L625.28 87.34 L625.50 87.79 L625.71 88.23 L625.93 88.67 L626.15 89.11 L626.37 89.55 L626.59 89.99 L626.82 90.43 L627.05 90.86 L627.27 91.30 L627.51 91.73 L627.74 92.17 L627.97 92.60 L628.21 93.03 L628.45 93.46 L628.69 93.88 L628.93 94.31 L629.18 94.74 L629.42 95.16 L629.67 95.58 L629.93 96.00 L630.18 96.42 L630.44 96.84 L630.70 97.25 L630.96 97.67 L631.22 98.08 L631.49 98.49 L631.75 98.90 L632.03 99.31 L632.30 99.71 L632.58 100.12 L632.85 100.52 L633.14 100.92 L633.42 101.31 L633.71 101.71 L633.99 102.10 L634.29 102.50 L634.58 102.88 L634.88 103.27 L635.18 103.66 L635.48 104.04 L635.79 104.42 L636.09 104.80 L636.40 105.17 L636.72 105.55 L637.03 105.92 L637.35 106.29 L637.67 106.65 L637.99 107.02 L638.32 107.38 L638.65 107.74 L638.98 108.09 L639.31 108.44 L639.65 108.79 L639.98 109.14 L640.32 109.48 L640.67 109.82 L641.01 110.16 L641.36 110.50 L641.71 110.83 L642.07 111.16 L642.42 111.48 L642.78 111.80 L643.14 112.12 L643.50 112.44 L643.87 112.75 L644.24 113.06 L644.61 113.37 L644.98 113.67 L645.36 113.97 L645.74 114.26 L646.12 114.55 L646.50 114.84 L646.88 115.12 L647.27 115.40 L647.66 115.68 L648.05 115.95 L648.45 116.22 L648.84 116.49 L649.24 116.75 L649.65 117.00 L650.05 117.26 L650.46 117.51 L650.87 117.75 L651.28 117.99 L651.69 118.23 L652.11 118.46 L652.53 118.69 L652.95 118.91 L653.37 119.13 L653.79 119.34 L654.22 119.55 L654.65 119.76 L655.08 119.96 L655.52 120.16 L655.95 120.35 L656.39 120.53 L656.83 120.72 L657.28 120.89 L657.72 121.07 L658.17 121.23 L658.62 121.40 L659.07 121.56 L659.53 121.71 L659.99 121.86 L660.45 122.00 L660.91 122.14 L661.37 122.27 L661.84 122.40 L662.30 122.52 L662.77 122.63 L663.25 122.74 L663.72 122.85 L664.20 122.95 L664.68 123.05 L665.16 123.13 L665.64 123.22 L666.13 123.30 L666.61 123.37 L667.10 123.44 L667.59 123.51 L668.08 123.57 L668.58 123.62 L669.07 123.67 L669.56 123.72 L670.06 123.77 L670.56 123.81 L671.06 123.85 L671.56 123.88 L672.06 123.91 L672.56 123.94 L673.06 123.97 L673.56 124.00 L674.06 124.02 L674.56 124.04 L675.06 124.06 L675.56 124.08 L676.06 124.09 L676.56 124.11 L677.06 124.12 L677.56 124.13 L678.06 124.15 L678.56 124.16 L679.06 124.17 L679.56 124.18 L680.05 124.20 L680.55 124.21 L681.04 124.22 L681.53 124.24 L682.02 124.25 L682.51 124.26 L683.00 124.28 L683.48 124.29 L683.97 124.31 L684.45 124.32 L684.94 124.34 L685.42 124.35 L685.90 124.36 L686.38 124.38 L686.86 124.39 L687.34 124.39 L687.81 124.40 L688.29 124.41 L688.77 124.41 L689.24 124.41 L689.72 124.41 L690.19 124.40 L690.66 124.40 L691.14 124.38 L691.61 124.37 L692.08 124.35 L692.55 124.33 L693.02 124.31 L693.49 124.28 L693.96 124.25 L694.44 124.21 L694.91 124.17 L695.38 124.12" fill="none" stroke="#7db44b" stroke-width="2.6" stroke-linejoin="round" stroke-linecap="round"/>
<text x="95.80" y="197.60" font-size="15.2" font-weight="bold" text-anchor="start" fill="#222" stroke="#222" stroke-width="0.22" >D</text>
<line x1="138.40" y1="197.30" x2="138.40" y2="350.60" stroke="#2a2a2a" stroke-width="1.3" />
<line x1="136.20" y1="350.60" x2="296.00" y2="350.60" stroke="#2a2a2a" stroke-width="1.3" />
<line x1="135.80" y1="350.60" x2="138.40" y2="350.60" stroke="#2a2a2a" stroke-width="1.3" />
<text x="132.20" y="353.60" font-size="8.6" font-weight="bold" text-anchor="end" fill="#222" stroke="#222" stroke-width="0.22" textLength="12.20" lengthAdjust="spacingAndGlyphs" >0.0</text>
<line x1="135.80" y1="320.06" x2="138.40" y2="320.06" stroke="#2a2a2a" stroke-width="1.3" />
<text x="132.20" y="323.06" font-size="8.6" font-weight="bold" text-anchor="end" fill="#222" stroke="#222" stroke-width="0.22" textLength="12.20" lengthAdjust="spacingAndGlyphs" >0.1</text>
<line x1="135.80" y1="289.52" x2="138.40" y2="289.52" stroke="#2a2a2a" stroke-width="1.3" />
<text x="132.20" y="292.52" font-size="8.6" font-weight="bold" text-anchor="end" fill="#222" stroke="#222" stroke-width="0.22" textLength="12.20" lengthAdjust="spacingAndGlyphs" >0.2</text>
<line x1="135.80" y1="258.98" x2="138.40" y2="258.98" stroke="#2a2a2a" stroke-width="1.3" />
<text x="132.20" y="261.98" font-size="8.6" font-weight="bold" text-anchor="end" fill="#222" stroke="#222" stroke-width="0.22" textLength="12.20" lengthAdjust="spacingAndGlyphs" >0.3</text>
<line x1="135.80" y1="228.44" x2="138.40" y2="228.44" stroke="#2a2a2a" stroke-width="1.3" />
<text x="132.20" y="231.44" font-size="8.6" font-weight="bold" text-anchor="end" fill="#222" stroke="#222" stroke-width="0.22" textLength="12.20" lengthAdjust="spacingAndGlyphs" >0.4</text>
<line x1="135.80" y1="197.90" x2="138.40" y2="197.90" stroke="#2a2a2a" stroke-width="1.3" />
<text x="132.20" y="200.90" font-size="8.6" font-weight="bold" text-anchor="end" fill="#222" stroke="#222" stroke-width="0.22" textLength="12.20" lengthAdjust="spacingAndGlyphs" >0.5</text>
<line x1="151.50" y1="350.60" x2="151.50" y2="352.80" stroke="#2a2a2a" stroke-width="1.3" />
<line x1="177.40" y1="350.60" x2="177.40" y2="352.80" stroke="#2a2a2a" stroke-width="1.3" />
<line x1="203.50" y1="350.60" x2="203.50" y2="352.80" stroke="#2a2a2a" stroke-width="1.3" />
<line x1="229.70" y1="350.60" x2="229.70" y2="352.80" stroke="#2a2a2a" stroke-width="1.3" />
<line x1="255.90" y1="350.60" x2="255.90" y2="352.80" stroke="#2a2a2a" stroke-width="1.3" />
<line x1="282.00" y1="350.60" x2="282.00" y2="352.80" stroke="#2a2a2a" stroke-width="1.3" />
<text x="151.50" y="365.30" font-size="8.4" font-weight="bold" text-anchor="middle" fill="#222" stroke="#222" stroke-width="0.22" >1</text>
<text x="177.40" y="365.30" font-size="8.4" font-weight="bold" text-anchor="middle" fill="#222" stroke="#222" stroke-width="0.22" >2</text>
<text x="203.50" y="365.30" font-size="8.4" font-weight="bold" text-anchor="middle" fill="#222" stroke="#222" stroke-width="0.22" >3</text>
<text x="229.70" y="365.30" font-size="8.4" font-weight="bold" text-anchor="middle" fill="#222" stroke="#222" stroke-width="0.22" >4</text>
<text x="255.90" y="365.30" font-size="8.4" font-weight="bold" text-anchor="middle" fill="#222" stroke="#222" stroke-width="0.22" >5</text>
<text x="282.00" y="365.30" font-size="8.4" font-weight="bold" text-anchor="middle" fill="#222" stroke="#222" stroke-width="0.22" >6</text>
<text x="215.20" y="373.90" font-size="7.8" font-weight="bold" text-anchor="middle" fill="#222" stroke="#222" stroke-width="0.22" textLength="77.00" lengthAdjust="spacingAndGlyphs" >SEC Column Fraction</text>
<text x="0" y="0" font-size="7.6" font-weight="bold" fill="#222" transform="translate(112.0 273.8) rotate(-90)" text-anchor="middle">T<tspan font-size="5" dy="1.8">2</tspan><tspan dy="-1.8"> (s)</tspan></text>
<text x="150.60" y="260.20" font-size="7.0" font-weight="bold" text-anchor="middle" fill="#222" stroke="#222" stroke-width="0.22" >High</text>
<text x="150.60" y="268.00" font-size="7.0" font-weight="bold" text-anchor="middle" fill="#222" stroke="#222" stroke-width="0.22" >MW</text>
<line x1="150.60" y1="269.20" x2="150.60" y2="276.70" stroke="#111" stroke-width="1.45" stroke-dasharray="1.35 1.65"/>
<path d="M146.70 273.90 L150.60 279.90 L154.50 273.90" fill="none" stroke="#111" stroke-width="1.75" stroke-linejoin="miter" stroke-miterlimit="6"/>
<text x="281.80" y="190.70" font-size="7.0" font-weight="bold" text-anchor="middle" fill="#222" stroke="#222" stroke-width="0.22" >Low</text>
<text x="281.80" y="198.20" font-size="7.0" font-weight="bold" text-anchor="middle" fill="#222" stroke="#222" stroke-width="0.22" >MW</text>
<line x1="281.80" y1="200.20" x2="281.80" y2="207.20" stroke="#111" stroke-width="1.45" stroke-dasharray="1.35 1.65"/>
<path d="M277.90 204.40 L281.80 210.40 L285.70 204.40" fill="none" stroke="#111" stroke-width="1.75" stroke-linejoin="miter" stroke-miterlimit="6"/>
<path d="M177.40 272.00 L203.50 268.10 L229.70 261.50 L255.90 258.60 L282.00 247.20" fill="none" stroke="#1a1a1a" stroke-width="1.15" stroke-dasharray="1.1 1.25"/>
<path d="M177.40 272.50 L203.50 261.70 L229.70 255.30 L255.90 245.60 L282.00 239.70" fill="none" stroke="#1a1a1a" stroke-width="1.15" stroke-dasharray="1.1 1.25"/>
<path d="M151.50 286.30 L177.40 273.20 L203.50 264.80 L229.70 259.50 L255.90 243.00 L282.00 214.40" fill="none" stroke="#1a1a1a" stroke-width="1.15" stroke-dasharray="1.1 1.25"/>
<path d="M151.50 291.50 L177.40 279.30 L203.50 273.00 L229.70 264.20 L255.90 251.80 L282.00 226.00" fill="none" stroke="#1a1a1a" stroke-width="1.15" stroke-dasharray="1.1 1.25"/>
<path d="M177.40 275.00 L203.50 274.10 L229.70 264.50 L255.90 255.20" fill="none" stroke="#1a1a1a" stroke-width="1.15" stroke-dasharray="1.1 1.25"/>
<path d="M177.40 271.80 L203.50 270.90 L229.70 260.80 L255.90 249.00" fill="none" stroke="#1a1a1a" stroke-width="1.15" stroke-dasharray="1.1 1.25"/>
<rect x="175.15" y="269.75" width="4.50" height="4.50" fill="#3db54a"/>
<rect x="201.25" y="265.85" width="4.50" height="4.50" fill="#3db54a"/>
<rect x="227.45" y="259.25" width="4.50" height="4.50" fill="#3db54a"/>
<rect x="253.65" y="256.35" width="4.50" height="4.50" fill="#3db54a"/>
<rect x="279.75" y="244.95" width="4.50" height="4.50" fill="#3db54a"/>
<path d="M177.40 269.53 L180.37 272.50 L177.40 275.47 L174.43 272.50 Z" fill="#7b4c9f"/>
<path d="M203.50 258.73 L206.47 261.70 L203.50 264.67 L200.53 261.70 Z" fill="#7b4c9f"/>
<path d="M229.70 252.33 L232.67 255.30 L229.70 258.27 L226.73 255.30 Z" fill="#7b4c9f"/>
<path d="M255.90 242.63 L258.87 245.60 L255.90 248.57 L252.93 245.60 Z" fill="#7b4c9f"/>
<path d="M282.00 236.73 L284.97 239.70 L282.00 242.67 L279.03 239.70 Z" fill="#7b4c9f"/>
<path d="M148.80 284.28 L154.20 284.28 L151.50 288.87 Z" fill="#2a74ba"/>
<path d="M174.70 271.18 L180.10 271.18 L177.40 275.76 Z" fill="#2a74ba"/>
<path d="M200.80 262.78 L206.20 262.78 L203.50 267.37 Z" fill="#2a74ba"/>
<path d="M227.00 257.48 L232.40 257.48 L229.70 262.06 Z" fill="#2a74ba"/>
<path d="M253.20 240.97 L258.60 240.97 L255.90 245.56 Z" fill="#2a74ba"/>
<path d="M279.30 212.38 L284.70 212.38 L282.00 216.97 Z" fill="#2a74ba"/>
<circle cx="151.50" cy="291.50" r="2.52" fill="#e8282b"/>
<circle cx="177.40" cy="279.30" r="2.52" fill="#e8282b"/>
<circle cx="203.50" cy="273.00" r="2.52" fill="#e8282b"/>
<circle cx="229.70" cy="264.20" r="2.52" fill="#e8282b"/>
<circle cx="255.90" cy="251.80" r="2.52" fill="#e8282b"/>
<circle cx="282.00" cy="226.00" r="2.52" fill="#e8282b"/>
<path d="M174.70 277.02 L180.10 277.02 L177.40 272.44 Z" fill="#f47f2a"/>
<path d="M200.80 276.12 L206.20 276.12 L203.50 271.54 Z" fill="#f47f2a"/>
<path d="M227.00 266.52 L232.40 266.52 L229.70 261.94 Z" fill="#f47f2a"/>
<path d="M253.20 257.22 L258.60 257.22 L255.90 252.63 Z" fill="#f47f2a"/>
<circle cx="177.40" cy="271.80" r="2.52" fill="#f9e41e"/>
<circle cx="203.50" cy="270.90" r="2.52" fill="#f9e41e"/>
<circle cx="229.70" cy="260.80" r="2.52" fill="#f9e41e"/>
<circle cx="255.90" cy="249.00" r="2.52" fill="#f9e41e"/>
<circle cx="249.70" cy="294.50" r="2.46" fill="#e8282b"/>
<text x="261.20" y="296.90" font-size="6.6" font-weight="normal" text-anchor="start" fill="#2a2a2a" stroke="#2a2a2a" stroke-width="0.099" >Tyr (ArH-2,6) polyE<tspan font-size="6.0" dy="2.0">4</tspan><tspan dy="-2.0">Y (Batch Z)</tspan></text>
<path d="M247.06 301.82 L252.34 301.82 L249.70 306.31 Z" fill="#2a74ba"/>
<text x="261.20" y="306.20" font-size="6.6" font-weight="normal" text-anchor="start" fill="#2a2a2a" stroke="#2a2a2a" stroke-width="0.099" >Tyr (ArH-3,5) polyE<tspan font-size="6.0" dy="2.0">4</tspan><tspan dy="-2.0">Y (Batch Z)</tspan></text>
<rect x="247.50" y="310.90" width="4.40" height="4.40" fill="#3db54a"/>
<text x="261.20" y="315.50" font-size="6.6" font-weight="normal" text-anchor="start" fill="#2a2a2a" stroke="#2a2a2a" stroke-width="0.099" >Tyr (ArH-2,6) polyK<tspan font-size="6.0" dy="2.0">4</tspan><tspan dy="-2.0">Y</tspan></text>
<path d="M249.70 319.50 L252.60 322.40 L249.70 325.30 L246.80 322.40 Z" fill="#7b4c9f"/>
<text x="261.20" y="324.80" font-size="6.6" font-weight="normal" text-anchor="start" fill="#2a2a2a" stroke="#2a2a2a" stroke-width="0.099" >Tyr (ArH-3,5) polyK<tspan font-size="6.0" dy="2.0">4</tspan><tspan dy="-2.0">Y</tspan></text>
<path d="M247.06 333.68 L252.34 333.68 L249.70 329.19 Z" fill="#f47f2a"/>
<text x="261.20" y="334.10" font-size="6.6" font-weight="normal" text-anchor="start" fill="#2a2a2a" stroke="#2a2a2a" stroke-width="0.099" >Tyr (ArH-2,6) polyE<tspan font-size="6.0" dy="2.0">6</tspan><tspan dy="-2.0">K</tspan><tspan font-size="6.0" dy="2.0">3</tspan><tspan dy="-2.0">Y</tspan></text>
<circle cx="249.70" cy="341.00" r="2.46" fill="#f9e41e"/>
<text x="261.20" y="343.40" font-size="6.6" font-weight="normal" text-anchor="start" fill="#2a2a2a" stroke="#2a2a2a" stroke-width="0.099" >Tyr (ArH-3,5) polyE<tspan font-size="6.0" dy="2.0">6</tspan><tspan dy="-2.0">K</tspan><tspan font-size="6.0" dy="2.0">3</tspan><tspan dy="-2.0">Y</tspan></text>
<text x="362.40" y="196.70" font-size="15.2" font-weight="bold" text-anchor="start" fill="#222" stroke="#222" stroke-width="0.22" >E</text>
<line x1="423.80" y1="200.60" x2="423.80" y2="351.50" stroke="#555" stroke-width="1.3" />
<line x1="423.80" y1="351.50" x2="578.20" y2="351.50" stroke="#555" stroke-width="1.3" />
<line x1="421.20" y1="336.70" x2="423.80" y2="336.70" stroke="#555" stroke-width="1.3" />
<text x="417.60" y="339.70" font-size="8.4" font-weight="bold" text-anchor="end" fill="#222" stroke="#222" stroke-width="0.22" textLength="28.80" lengthAdjust="spacingAndGlyphs" >2.0e-11</text>
<line x1="421.20" y1="317.47" x2="423.80" y2="317.47" stroke="#555" stroke-width="1.3" />
<text x="417.60" y="320.47" font-size="8.4" font-weight="bold" text-anchor="end" fill="#222" stroke="#222" stroke-width="0.22" textLength="28.80" lengthAdjust="spacingAndGlyphs" >4.0e-11</text>
<line x1="421.20" y1="298.24" x2="423.80" y2="298.24" stroke="#555" stroke-width="1.3" />
<text x="417.60" y="301.24" font-size="8.4" font-weight="bold" text-anchor="end" fill="#222" stroke="#222" stroke-width="0.22" textLength="28.80" lengthAdjust="spacingAndGlyphs" >6.0e-11</text>
<line x1="421.20" y1="279.01" x2="423.80" y2="279.01" stroke="#555" stroke-width="1.3" />
<text x="417.60" y="282.01" font-size="8.4" font-weight="bold" text-anchor="end" fill="#222" stroke="#222" stroke-width="0.22" textLength="28.80" lengthAdjust="spacingAndGlyphs" >8.0e-11</text>
<line x1="421.20" y1="259.78" x2="423.80" y2="259.78" stroke="#555" stroke-width="1.3" />
<text x="417.60" y="262.78" font-size="8.4" font-weight="bold" text-anchor="end" fill="#222" stroke="#222" stroke-width="0.22" textLength="28.80" lengthAdjust="spacingAndGlyphs" >1.0e-10</text>
<line x1="421.20" y1="240.55" x2="423.80" y2="240.55" stroke="#555" stroke-width="1.3" />
<text x="417.60" y="243.55" font-size="8.4" font-weight="bold" text-anchor="end" fill="#222" stroke="#222" stroke-width="0.22" textLength="28.80" lengthAdjust="spacingAndGlyphs" >1.2e-10</text>
<line x1="421.20" y1="221.32" x2="423.80" y2="221.32" stroke="#555" stroke-width="1.3" />
<text x="417.60" y="224.32" font-size="8.4" font-weight="bold" text-anchor="end" fill="#222" stroke="#222" stroke-width="0.22" textLength="28.80" lengthAdjust="spacingAndGlyphs" >1.4e-10</text>
<line x1="421.20" y1="202.09" x2="423.80" y2="202.09" stroke="#555" stroke-width="1.3" />
<text x="417.60" y="205.09" font-size="8.4" font-weight="bold" text-anchor="end" fill="#222" stroke="#222" stroke-width="0.22" textLength="28.80" lengthAdjust="spacingAndGlyphs" >1.6e-10</text>
<line x1="436.80" y1="351.50" x2="436.80" y2="353.60" stroke="#555" stroke-width="1.3" />
<line x1="462.40" y1="351.50" x2="462.40" y2="353.60" stroke="#555" stroke-width="1.3" />
<line x1="488.00" y1="351.50" x2="488.00" y2="353.60" stroke="#555" stroke-width="1.3" />
<line x1="513.60" y1="351.50" x2="513.60" y2="353.60" stroke="#555" stroke-width="1.3" />
<line x1="539.40" y1="351.50" x2="539.40" y2="353.60" stroke="#555" stroke-width="1.3" />
<line x1="565.00" y1="351.50" x2="565.00" y2="353.60" stroke="#555" stroke-width="1.3" />
<text x="436.80" y="365.30" font-size="8.4" font-weight="bold" text-anchor="middle" fill="#222" stroke="#222" stroke-width="0.22" >1</text>
<text x="462.40" y="365.30" font-size="8.4" font-weight="bold" text-anchor="middle" fill="#222" stroke="#222" stroke-width="0.22" >2</text>
<text x="488.00" y="365.30" font-size="8.4" font-weight="bold" text-anchor="middle" fill="#222" stroke="#222" stroke-width="0.22" >3</text>
<text x="513.60" y="365.30" font-size="8.4" font-weight="bold" text-anchor="middle" fill="#222" stroke="#222" stroke-width="0.22" >4</text>
<text x="539.40" y="365.30" font-size="8.4" font-weight="bold" text-anchor="middle" fill="#222" stroke="#222" stroke-width="0.22" >5</text>
<text x="565.00" y="365.30" font-size="8.4" font-weight="bold" text-anchor="middle" fill="#222" stroke="#222" stroke-width="0.22" >6</text>
<text x="499.80" y="373.90" font-size="7.8" font-weight="bold" text-anchor="middle" fill="#222" stroke="#222" stroke-width="0.22" textLength="76.00" lengthAdjust="spacingAndGlyphs" >SEC Column Fraction</text>
<text x="0" y="0" font-size="7.6" font-weight="bold" fill="#222" transform="translate(383.2 274.5) rotate(-90)" text-anchor="middle" textLength="97" lengthAdjust="spacingAndGlyphs">Diffusion coefficient (m<tspan font-size="5" dy="-2.5">2</tspan><tspan dy="2.5">/s)</tspan></text>
<text x="436.00" y="308.20" font-size="7.0" font-weight="bold" text-anchor="middle" fill="#222" stroke="#222" stroke-width="0.22" >High</text>
<text x="436.00" y="316.20" font-size="7.0" font-weight="bold" text-anchor="middle" fill="#222" stroke="#222" stroke-width="0.22" >MW</text>
<line x1="436.00" y1="318.20" x2="436.00" y2="325.20" stroke="#111" stroke-width="1.45" stroke-dasharray="1.35 1.65"/>
<path d="M432.10 322.40 L436.00 328.40 L439.90 322.40" fill="none" stroke="#111" stroke-width="1.75" stroke-linejoin="miter" stroke-miterlimit="6"/>
<text x="564.80" y="188.60" font-size="7.0" font-weight="bold" text-anchor="middle" fill="#222" stroke="#222" stroke-width="0.22" >Low</text>
<text x="564.80" y="196.80" font-size="7.0" font-weight="bold" text-anchor="middle" fill="#222" stroke="#222" stroke-width="0.22" >MW</text>
<line x1="564.80" y1="198.70" x2="564.80" y2="205.70" stroke="#111" stroke-width="1.45" stroke-dasharray="1.35 1.65"/>
<path d="M560.90 202.90 L564.80 208.90 L568.70 202.90" fill="none" stroke="#111" stroke-width="1.75" stroke-linejoin="miter" stroke-miterlimit="6"/>
<path d="M436.80 334.10 L462.40 328.00 L488.00 317.30 L513.60 300.90 L539.40 273.00 L565.00 216.70" fill="none" stroke="#1a1a1a" stroke-width="1.15" stroke-dasharray="1.1 1.25"/>
<path d="M488.00 307.30 L513.60 288.10 L539.40 260.20 L565.00 212.40" fill="none" stroke="#1a1a1a" stroke-width="1.15" stroke-dasharray="1.1 1.25"/>
<path d="M488.00 305.60 L513.60 292.40 L539.40 280.10 L565.00 263.80" fill="none" stroke="#1a1a1a" stroke-width="1.15" stroke-dasharray="1.1 1.25"/>
<path d="M462.40 328.00 L488.00 317.30 L513.60 295.00 L539.40 256.00" fill="none" stroke="#1a1a1a" stroke-width="1.15" stroke-dasharray="1.1 1.25"/>
<circle cx="436.80" cy="334.10" r="2.52" fill="#2f74ba"/>
<circle cx="462.40" cy="328.00" r="2.52" fill="#2f74ba"/>
<circle cx="488.00" cy="317.30" r="2.52" fill="#2f74ba"/>
<circle cx="513.60" cy="300.90" r="2.52" fill="#2f74ba"/>
<circle cx="539.40" cy="273.00" r="2.52" fill="#2f74ba"/>
<circle cx="565.00" cy="216.70" r="2.52" fill="#2f74ba"/>
<path d="M485.30 305.28 L490.70 305.28 L488.00 309.87 Z" fill="#3cae45"/>
<path d="M510.90 286.08 L516.30 286.08 L513.60 290.67 Z" fill="#3cae45"/>
<path d="M536.70 258.18 L542.10 258.18 L539.40 262.76 Z" fill="#3cae45"/>
<path d="M562.30 210.38 L567.70 210.38 L565.00 214.97 Z" fill="#3cae45"/>
<rect x="485.75" y="303.35" width="4.50" height="4.50" fill="#7f46a2"/>
<rect x="511.35" y="290.15" width="4.50" height="4.50" fill="#7f46a2"/>
<rect x="537.15" y="277.85" width="4.50" height="4.50" fill="#7f46a2"/>
<rect x="562.75" y="261.55" width="4.50" height="4.50" fill="#7f46a2"/>
<path d="M462.40 325.03 L465.37 328.00 L462.40 330.97 L459.43 328.00 Z" fill="#f38424"/>
<path d="M488.00 314.33 L490.97 317.30 L488.00 320.27 L485.03 317.30 Z" fill="#f38424"/>
<path d="M513.60 292.03 L516.57 295.00 L513.60 297.97 L510.63 295.00 Z" fill="#f38424"/>
<path d="M539.40 253.03 L542.37 256.00 L539.40 258.97 L536.43 256.00 Z" fill="#f38424"/>
<circle cx="508.70" cy="318.90" r="2.74" fill="#2f74ba"/>
<text x="519.70" y="321.20" font-size="6.4" font-weight="normal" text-anchor="start" fill="#2a2a2a" stroke="#2a2a2a" stroke-width="0.099" >Tyr (ArH-2,6) polyE<tspan font-size="6.0" dy="2.0">4</tspan><tspan dy="-2.0">Y (Batch Z)</tspan></text>
<path d="M506.00 325.64 L511.40 325.64 L508.70 330.23 Z" fill="#3cae45"/>
<text x="519.70" y="329.97" font-size="6.4" font-weight="normal" text-anchor="start" fill="#2a2a2a" stroke="#2a2a2a" stroke-width="0.099" >Tyr (ArH-2,6) polyE<tspan font-size="6.0" dy="2.0">4</tspan><tspan dy="-2.0">Y (Batch C)</tspan></text>
<rect x="506.45" y="334.19" width="4.50" height="4.50" fill="#7f46a2"/>
<text x="519.70" y="338.74" font-size="6.4" font-weight="normal" text-anchor="start" fill="#2a2a2a" stroke="#2a2a2a" stroke-width="0.099" >Tyr (ArH-2,6) polyK<tspan font-size="6.0" dy="2.0">4</tspan><tspan dy="-2.0">Y</tspan></text>
<path d="M508.70 342.24 L511.67 345.21 L508.70 348.18 L505.73 345.21 Z" fill="#f38424"/>
<text x="519.70" y="347.51" font-size="6.4" font-weight="normal" text-anchor="start" fill="#2a2a2a" stroke="#2a2a2a" stroke-width="0.099" >Tyr (ArH-2,6) polyE<tspan font-size="6.0" dy="2.0">6</tspan><tspan dy="-2.0">K</tspan><tspan font-size="6.0" dy="2.0">3</tspan><tspan dy="-2.0">Y</tspan></text>
</svg>
</body></html>
